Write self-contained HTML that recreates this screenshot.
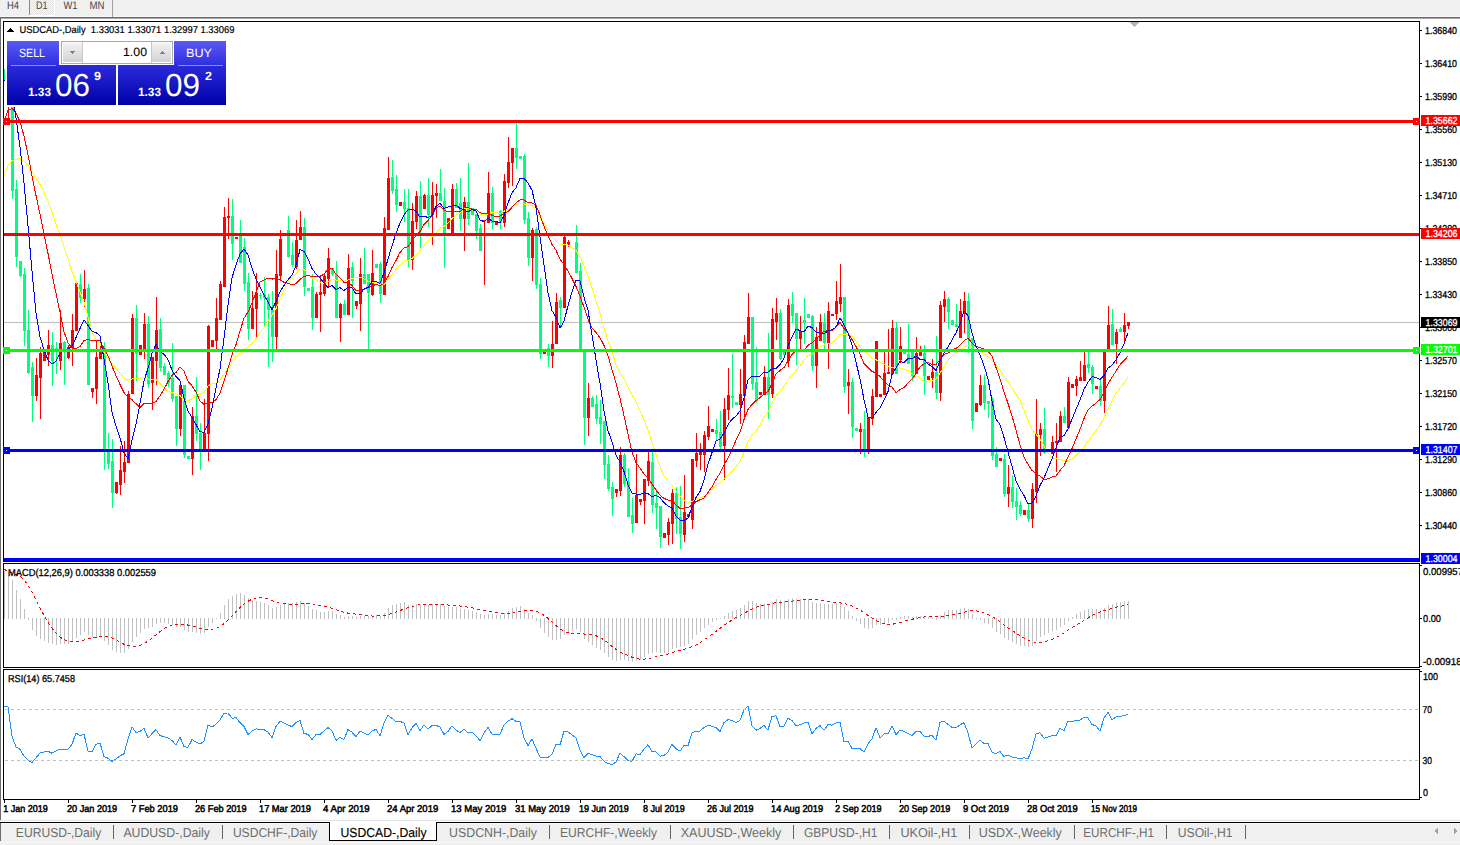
<!DOCTYPE html><html><head><meta charset="utf-8"><title>USDCAD Daily</title><style>html,body{margin:0;padding:0;width:1460px;height:845px;overflow:hidden;background:#fff} text{text-rendering:geometricPrecision}</style></head><body><svg width="1460" height="845" viewBox="0 0 1460 845" shape-rendering="crispEdges" style="display:block"><rect x="0" y="0" width="1460" height="845" fill="#ffffff" />
<rect x="0" y="0" width="1460" height="16" fill="#f0f0f0" />
<rect x="0" y="16" width="1461" height="1" fill="#f8f8f8" />
<rect x="0" y="17" width="1461" height="1" fill="#6b6b6b" />
<rect x="1" y="18" width="1460" height="1" fill="#a8a8a8" />
<rect x="0" y="17" width="1" height="803" fill="#6b6b6b"/>
<defs><pattern id="dith" width="2" height="2" patternUnits="userSpaceOnUse"><rect width="2" height="2" fill="#f7f7f7"/><rect width="1" height="1" fill="#e4e4e4"/><rect x="1" y="1" width="1" height="1" fill="#e4e4e4"/></pattern></defs>
<rect x="30" y="0" width="24" height="15" fill="url(#dith)" />
<rect x="29" y="15" width="26" height="1" fill="#ffffff" />
<rect x="54" y="0" width="1" height="16" fill="#ffffff"/>
<rect x="29" y="0" width="1" height="15" fill="#8a8a8a"/>
<rect x="112" y="0" width="1" height="17" fill="#a0a0a0"/>
<text x="7" y="9" font-family="Liberation Sans" font-size="11" font-weight="400" fill="#444" text-anchor="start" textLength="12" lengthAdjust="spacingAndGlyphs" >H4</text>
<text x="36" y="9" font-family="Liberation Sans" font-size="11" font-weight="400" fill="#444" text-anchor="start" textLength="11.5" lengthAdjust="spacingAndGlyphs" >D1</text>
<text x="63.5" y="9" font-family="Liberation Sans" font-size="11" font-weight="400" fill="#444" text-anchor="start" textLength="14" lengthAdjust="spacingAndGlyphs" >W1</text>
<text x="89.5" y="9" font-family="Liberation Sans" font-size="11" font-weight="400" fill="#444" text-anchor="start" textLength="15" lengthAdjust="spacingAndGlyphs" >MN</text>
<rect x="4" y="322" width="1415" height="1" fill="#c0c0c0" />
<g><rect x="4" y="69" width="1" height="12" fill="#00ff7f"/><rect x="3" y="70" width="3" height="9" fill="#00ff7f"/><rect x="8" y="107" width="1" height="12" fill="#ff0000"/><rect x="7" y="78" width="3" height="1" fill="#ff0000"/><rect x="12" y="78" width="1" height="121" fill="#00ff7f"/><rect x="11" y="78" width="3" height="113" fill="#00ff7f"/><rect x="16" y="180" width="1" height="87" fill="#00ff7f"/><rect x="15" y="189" width="3" height="68" fill="#00ff7f"/><rect x="20" y="261" width="1" height="16" fill="#00ff7f"/><rect x="19" y="261" width="3" height="15" fill="#00ff7f"/><rect x="24" y="268" width="1" height="78" fill="#00ff7f"/><rect x="23" y="274" width="3" height="57" fill="#00ff7f"/><rect x="28" y="310" width="1" height="64" fill="#00ff7f"/><rect x="27" y="330" width="3" height="43" fill="#00ff7f"/><rect x="32" y="362" width="1" height="60" fill="#00ff7f"/><rect x="31" y="367" width="3" height="29" fill="#00ff7f"/><rect x="36" y="358" width="1" height="43" fill="#ff0000"/><rect x="35" y="375" width="3" height="21" fill="#ff0000"/><rect x="40" y="347" width="1" height="72" fill="#ff0000"/><rect x="39" y="353" width="3" height="25" fill="#ff0000"/><rect x="44" y="349" width="1" height="12" fill="#ff0000"/><rect x="43" y="349" width="3" height="12" fill="#ff0000"/><rect x="48" y="330" width="1" height="36" fill="#ff0000"/><rect x="47" y="345" width="3" height="10" fill="#ff0000"/><rect x="52" y="332" width="1" height="54" fill="#00ff7f"/><rect x="51" y="345" width="3" height="16" fill="#00ff7f"/><rect x="56" y="342" width="1" height="32" fill="#00ff7f"/><rect x="55" y="348" width="3" height="4" fill="#00ff7f"/><rect x="60" y="310" width="1" height="60" fill="#ff0000"/><rect x="59" y="343" width="3" height="18" fill="#ff0000"/><rect x="64" y="341" width="1" height="44" fill="#00ff7f"/><rect x="63" y="342" width="3" height="8" fill="#00ff7f"/><rect x="68" y="345" width="1" height="14" fill="#ff0000"/><rect x="67" y="347" width="3" height="11" fill="#ff0000"/><rect x="72" y="314" width="1" height="52" fill="#ff0000"/><rect x="71" y="330" width="3" height="18" fill="#ff0000"/><rect x="76" y="283" width="1" height="48" fill="#ff0000"/><rect x="75" y="283" width="3" height="48" fill="#ff0000"/><rect x="80" y="274" width="1" height="29" fill="#00ff7f"/><rect x="79" y="284" width="3" height="14" fill="#00ff7f"/><rect x="84" y="270" width="1" height="37" fill="#ff0000"/><rect x="83" y="289" width="3" height="10" fill="#ff0000"/><rect x="88" y="284" width="1" height="101" fill="#00ff7f"/><rect x="87" y="288" width="3" height="97" fill="#00ff7f"/><rect x="92" y="388" width="1" height="10" fill="#ff0000"/><rect x="91" y="388" width="3" height="4" fill="#ff0000"/><rect x="96" y="341" width="1" height="63" fill="#ff0000"/><rect x="95" y="357" width="3" height="32" fill="#ff0000"/><rect x="100" y="345" width="1" height="14" fill="#ff0000"/><rect x="99" y="351" width="3" height="8" fill="#ff0000"/><rect x="104" y="342" width="1" height="128" fill="#00ff7f"/><rect x="103" y="348" width="3" height="102" fill="#00ff7f"/><rect x="108" y="433" width="1" height="36" fill="#00ff7f"/><rect x="107" y="451" width="3" height="13" fill="#00ff7f"/><rect x="112" y="439" width="1" height="69" fill="#00ff7f"/><rect x="111" y="461" width="3" height="32" fill="#00ff7f"/><rect x="116" y="482" width="1" height="12" fill="#ff0000"/><rect x="115" y="482" width="3" height="11" fill="#ff0000"/><rect x="120" y="446" width="1" height="49" fill="#ff0000"/><rect x="119" y="470" width="3" height="15" fill="#ff0000"/><rect x="124" y="441" width="1" height="42" fill="#ff0000"/><rect x="123" y="462" width="3" height="10" fill="#ff0000"/><rect x="128" y="391" width="1" height="72" fill="#ff0000"/><rect x="127" y="394" width="3" height="69" fill="#ff0000"/><rect x="132" y="314" width="1" height="80" fill="#ff0000"/><rect x="131" y="318" width="3" height="76" fill="#ff0000"/><rect x="136" y="305" width="1" height="76" fill="#00ff7f"/><rect x="135" y="318" width="3" height="36" fill="#00ff7f"/><rect x="140" y="345" width="1" height="10" fill="#ff0000"/><rect x="139" y="345" width="3" height="10" fill="#ff0000"/><rect x="144" y="313" width="1" height="46" fill="#ff0000"/><rect x="143" y="324" width="3" height="25" fill="#ff0000"/><rect x="148" y="316" width="1" height="72" fill="#00ff7f"/><rect x="147" y="324" width="3" height="60" fill="#00ff7f"/><rect x="152" y="357" width="1" height="53" fill="#ff0000"/><rect x="151" y="357" width="3" height="26" fill="#ff0000"/><rect x="156" y="297" width="1" height="88" fill="#ff0000"/><rect x="155" y="330" width="3" height="31" fill="#ff0000"/><rect x="160" y="318" width="1" height="53" fill="#00ff7f"/><rect x="159" y="329" width="3" height="39" fill="#00ff7f"/><rect x="164" y="363" width="1" height="12" fill="#00ff7f"/><rect x="163" y="366" width="3" height="9" fill="#00ff7f"/><rect x="168" y="371" width="1" height="16" fill="#00ff7f"/><rect x="167" y="373" width="3" height="10" fill="#00ff7f"/><rect x="172" y="343" width="1" height="59" fill="#00ff7f"/><rect x="171" y="378" width="3" height="21" fill="#00ff7f"/><rect x="176" y="396" width="1" height="50" fill="#00ff7f"/><rect x="175" y="396" width="3" height="33" fill="#00ff7f"/><rect x="180" y="383" width="1" height="53" fill="#ff0000"/><rect x="179" y="385" width="3" height="44" fill="#ff0000"/><rect x="184" y="385" width="1" height="73" fill="#00ff7f"/><rect x="183" y="385" width="3" height="70" fill="#00ff7f"/><rect x="188" y="456" width="1" height="3" fill="#00ff7f"/><rect x="187" y="456" width="3" height="3" fill="#00ff7f"/><rect x="192" y="407" width="1" height="68" fill="#ff0000"/><rect x="191" y="416" width="3" height="43" fill="#ff0000"/><rect x="196" y="377" width="1" height="64" fill="#00ff7f"/><rect x="195" y="416" width="3" height="18" fill="#00ff7f"/><rect x="200" y="423" width="1" height="47" fill="#00ff7f"/><rect x="199" y="433" width="3" height="16" fill="#00ff7f"/><rect x="204" y="399" width="1" height="51" fill="#ff0000"/><rect x="203" y="433" width="3" height="16" fill="#ff0000"/><rect x="208" y="325" width="1" height="136" fill="#ff0000"/><rect x="207" y="326" width="3" height="108" fill="#ff0000"/><rect x="212" y="340" width="1" height="7" fill="#ff0000"/><rect x="211" y="340" width="3" height="7" fill="#ff0000"/><rect x="216" y="298" width="1" height="51" fill="#ff0000"/><rect x="215" y="318" width="3" height="23" fill="#ff0000"/><rect x="220" y="281" width="1" height="39" fill="#ff0000"/><rect x="219" y="284" width="3" height="36" fill="#ff0000"/><rect x="224" y="207" width="1" height="80" fill="#ff0000"/><rect x="223" y="217" width="3" height="70" fill="#ff0000"/><rect x="228" y="198" width="1" height="41" fill="#ff0000"/><rect x="227" y="216" width="3" height="2" fill="#ff0000"/><rect x="232" y="199" width="1" height="61" fill="#00ff7f"/><rect x="231" y="216" width="3" height="28" fill="#00ff7f"/><rect x="236" y="237" width="1" height="2" fill="#ff0000"/><rect x="235" y="237" width="3" height="2" fill="#ff0000"/><rect x="240" y="220" width="1" height="43" fill="#00ff7f"/><rect x="239" y="234" width="3" height="29" fill="#00ff7f"/><rect x="244" y="238" width="1" height="53" fill="#00ff7f"/><rect x="243" y="247" width="3" height="37" fill="#00ff7f"/><rect x="248" y="273" width="1" height="67" fill="#00ff7f"/><rect x="247" y="282" width="3" height="47" fill="#00ff7f"/><rect x="252" y="291" width="1" height="38" fill="#ff0000"/><rect x="251" y="308" width="3" height="21" fill="#ff0000"/><rect x="256" y="273" width="1" height="65" fill="#ff0000"/><rect x="255" y="293" width="3" height="16" fill="#ff0000"/><rect x="260" y="293" width="1" height="6" fill="#00ff7f"/><rect x="259" y="295" width="3" height="1" fill="#00ff7f"/><rect x="264" y="277" width="1" height="51" fill="#00ff7f"/><rect x="263" y="294" width="3" height="4" fill="#00ff7f"/><rect x="268" y="294" width="1" height="73" fill="#00ff7f"/><rect x="267" y="297" width="3" height="13" fill="#00ff7f"/><rect x="272" y="291" width="1" height="71" fill="#00ff7f"/><rect x="271" y="310" width="3" height="27" fill="#00ff7f"/><rect x="276" y="250" width="1" height="99" fill="#ff0000"/><rect x="275" y="274" width="3" height="63" fill="#ff0000"/><rect x="280" y="230" width="1" height="50" fill="#ff0000"/><rect x="279" y="239" width="3" height="37" fill="#ff0000"/><rect x="288" y="216" width="1" height="41" fill="#00ff7f"/><rect x="287" y="230" width="3" height="27" fill="#00ff7f"/><rect x="292" y="242" width="1" height="25" fill="#00ff7f"/><rect x="291" y="255" width="3" height="10" fill="#00ff7f"/><rect x="296" y="220" width="1" height="49" fill="#ff0000"/><rect x="295" y="240" width="3" height="27" fill="#ff0000"/><rect x="300" y="211" width="1" height="29" fill="#ff0000"/><rect x="299" y="227" width="3" height="13" fill="#ff0000"/><rect x="304" y="218" width="1" height="78" fill="#00ff7f"/><rect x="303" y="227" width="3" height="60" fill="#00ff7f"/><rect x="308" y="288" width="1" height="3" fill="#00ff7f"/><rect x="307" y="288" width="3" height="3" fill="#00ff7f"/><rect x="312" y="274" width="1" height="56" fill="#00ff7f"/><rect x="311" y="287" width="3" height="31" fill="#00ff7f"/><rect x="316" y="292" width="1" height="26" fill="#ff0000"/><rect x="315" y="294" width="3" height="24" fill="#ff0000"/><rect x="320" y="275" width="1" height="57" fill="#ff0000"/><rect x="319" y="292" width="3" height="3" fill="#ff0000"/><rect x="324" y="273" width="1" height="23" fill="#ff0000"/><rect x="323" y="276" width="3" height="18" fill="#ff0000"/><rect x="328" y="248" width="1" height="39" fill="#ff0000"/><rect x="327" y="258" width="3" height="21" fill="#ff0000"/><rect x="332" y="268" width="1" height="8" fill="#00ff7f"/><rect x="331" y="268" width="3" height="6" fill="#00ff7f"/><rect x="336" y="261" width="1" height="57" fill="#00ff7f"/><rect x="335" y="274" width="3" height="44" fill="#00ff7f"/><rect x="340" y="303" width="1" height="39" fill="#ff0000"/><rect x="339" y="304" width="3" height="14" fill="#ff0000"/><rect x="344" y="300" width="1" height="15" fill="#00ff7f"/><rect x="343" y="304" width="3" height="11" fill="#00ff7f"/><rect x="348" y="254" width="1" height="61" fill="#ff0000"/><rect x="347" y="268" width="3" height="47" fill="#ff0000"/><rect x="352" y="262" width="1" height="56" fill="#00ff7f"/><rect x="351" y="267" width="3" height="14" fill="#00ff7f"/><rect x="356" y="301" width="1" height="8" fill="#ff0000"/><rect x="355" y="301" width="3" height="5" fill="#ff0000"/><rect x="360" y="258" width="1" height="73" fill="#ff0000"/><rect x="359" y="274" width="3" height="30" fill="#ff0000"/><rect x="364" y="248" width="1" height="36" fill="#00ff7f"/><rect x="363" y="274" width="3" height="10" fill="#00ff7f"/><rect x="368" y="274" width="1" height="75" fill="#00ff7f"/><rect x="367" y="274" width="3" height="19" fill="#00ff7f"/><rect x="372" y="250" width="1" height="46" fill="#ff0000"/><rect x="371" y="273" width="3" height="22" fill="#ff0000"/><rect x="376" y="264" width="1" height="4" fill="#00ff7f"/><rect x="375" y="264" width="3" height="4" fill="#00ff7f"/><rect x="380" y="262" width="1" height="41" fill="#00ff7f"/><rect x="379" y="264" width="3" height="30" fill="#00ff7f"/><rect x="384" y="217" width="1" height="78" fill="#ff0000"/><rect x="383" y="228" width="3" height="67" fill="#ff0000"/><rect x="388" y="157" width="1" height="73" fill="#ff0000"/><rect x="387" y="178" width="3" height="52" fill="#ff0000"/><rect x="392" y="160" width="1" height="34" fill="#00ff7f"/><rect x="391" y="177" width="3" height="14" fill="#00ff7f"/><rect x="396" y="175" width="1" height="37" fill="#00ff7f"/><rect x="395" y="189" width="3" height="16" fill="#00ff7f"/><rect x="400" y="202" width="1" height="4" fill="#ff0000"/><rect x="399" y="202" width="3" height="4" fill="#ff0000"/><rect x="404" y="189" width="1" height="33" fill="#00ff7f"/><rect x="403" y="202" width="3" height="7" fill="#00ff7f"/><rect x="408" y="189" width="1" height="78" fill="#00ff7f"/><rect x="407" y="208" width="3" height="52" fill="#00ff7f"/><rect x="412" y="203" width="1" height="67" fill="#ff0000"/><rect x="411" y="221" width="3" height="39" fill="#ff0000"/><rect x="416" y="191" width="1" height="38" fill="#ff0000"/><rect x="415" y="196" width="3" height="26" fill="#ff0000"/><rect x="420" y="181" width="1" height="67" fill="#00ff7f"/><rect x="419" y="196" width="3" height="35" fill="#00ff7f"/><rect x="424" y="194" width="1" height="15" fill="#ff0000"/><rect x="423" y="195" width="3" height="14" fill="#ff0000"/><rect x="428" y="178" width="1" height="49" fill="#00ff7f"/><rect x="427" y="195" width="3" height="20" fill="#00ff7f"/><rect x="432" y="182" width="1" height="63" fill="#ff0000"/><rect x="431" y="195" width="3" height="20" fill="#ff0000"/><rect x="436" y="184" width="1" height="34" fill="#ff0000"/><rect x="435" y="193" width="3" height="3" fill="#ff0000"/><rect x="440" y="169" width="1" height="32" fill="#00ff7f"/><rect x="439" y="193" width="3" height="8" fill="#00ff7f"/><rect x="444" y="188" width="1" height="80" fill="#00ff7f"/><rect x="443" y="201" width="3" height="33" fill="#00ff7f"/><rect x="448" y="218" width="1" height="11" fill="#ff0000"/><rect x="447" y="218" width="3" height="11" fill="#ff0000"/><rect x="452" y="184" width="1" height="50" fill="#ff0000"/><rect x="451" y="189" width="3" height="45" fill="#ff0000"/><rect x="456" y="183" width="1" height="25" fill="#00ff7f"/><rect x="455" y="189" width="3" height="19" fill="#00ff7f"/><rect x="460" y="178" width="1" height="53" fill="#00ff7f"/><rect x="459" y="203" width="3" height="16" fill="#00ff7f"/><rect x="464" y="197" width="1" height="54" fill="#ff0000"/><rect x="463" y="202" width="3" height="17" fill="#ff0000"/><rect x="468" y="163" width="1" height="62" fill="#00ff7f"/><rect x="467" y="202" width="3" height="17" fill="#00ff7f"/><rect x="472" y="208" width="1" height="7" fill="#00ff7f"/><rect x="471" y="208" width="3" height="7" fill="#00ff7f"/><rect x="476" y="214" width="1" height="25" fill="#00ff7f"/><rect x="475" y="214" width="3" height="17" fill="#00ff7f"/><rect x="480" y="224" width="1" height="27" fill="#00ff7f"/><rect x="479" y="228" width="3" height="23" fill="#00ff7f"/><rect x="484" y="220" width="1" height="65" fill="#ff0000"/><rect x="483" y="220" width="3" height="1" fill="#ff0000"/><rect x="488" y="172" width="1" height="51" fill="#ff0000"/><rect x="487" y="193" width="3" height="30" fill="#ff0000"/><rect x="492" y="187" width="1" height="42" fill="#00ff7f"/><rect x="491" y="193" width="3" height="30" fill="#00ff7f"/><rect x="496" y="222" width="1" height="3" fill="#ff0000"/><rect x="495" y="222" width="3" height="3" fill="#ff0000"/><rect x="500" y="210" width="1" height="19" fill="#00ff7f"/><rect x="499" y="211" width="3" height="12" fill="#00ff7f"/><rect x="504" y="174" width="1" height="53" fill="#ff0000"/><rect x="503" y="181" width="3" height="42" fill="#ff0000"/><rect x="508" y="137" width="1" height="51" fill="#ff0000"/><rect x="507" y="162" width="3" height="21" fill="#ff0000"/><rect x="512" y="148" width="1" height="38" fill="#ff0000"/><rect x="511" y="148" width="3" height="15" fill="#ff0000"/><rect x="516" y="123" width="1" height="46" fill="#00ff7f"/><rect x="515" y="148" width="3" height="10" fill="#00ff7f"/><rect x="520" y="156" width="1" height="3" fill="#00ff7f"/><rect x="519" y="156" width="3" height="3" fill="#00ff7f"/><rect x="524" y="154" width="1" height="70" fill="#00ff7f"/><rect x="523" y="156" width="3" height="64" fill="#00ff7f"/><rect x="528" y="212" width="1" height="54" fill="#00ff7f"/><rect x="527" y="218" width="3" height="40" fill="#00ff7f"/><rect x="532" y="228" width="1" height="53" fill="#ff0000"/><rect x="531" y="230" width="3" height="28" fill="#ff0000"/><rect x="536" y="227" width="1" height="62" fill="#00ff7f"/><rect x="535" y="229" width="3" height="56" fill="#00ff7f"/><rect x="540" y="278" width="1" height="81" fill="#00ff7f"/><rect x="539" y="284" width="3" height="70" fill="#00ff7f"/><rect x="544" y="352" width="1" height="2" fill="#ff0000"/><rect x="543" y="352" width="3" height="2" fill="#ff0000"/><rect x="548" y="344" width="1" height="23" fill="#00ff7f"/><rect x="547" y="348" width="3" height="8" fill="#00ff7f"/><rect x="552" y="321" width="1" height="47" fill="#ff0000"/><rect x="551" y="344" width="3" height="12" fill="#ff0000"/><rect x="556" y="293" width="1" height="51" fill="#ff0000"/><rect x="555" y="302" width="3" height="42" fill="#ff0000"/><rect x="560" y="297" width="1" height="31" fill="#00ff7f"/><rect x="559" y="300" width="3" height="8" fill="#00ff7f"/><rect x="564" y="235" width="1" height="73" fill="#ff0000"/><rect x="563" y="237" width="3" height="71" fill="#ff0000"/><rect x="568" y="240" width="1" height="7" fill="#ff0000"/><rect x="567" y="242" width="3" height="3" fill="#ff0000"/><rect x="576" y="225" width="1" height="48" fill="#00ff7f"/><rect x="575" y="242" width="3" height="31" fill="#00ff7f"/><rect x="580" y="263" width="1" height="88" fill="#00ff7f"/><rect x="579" y="271" width="3" height="80" fill="#00ff7f"/><rect x="584" y="351" width="1" height="94" fill="#00ff7f"/><rect x="583" y="351" width="3" height="67" fill="#00ff7f"/><rect x="588" y="383" width="1" height="53" fill="#ff0000"/><rect x="587" y="398" width="3" height="20" fill="#ff0000"/><rect x="592" y="396" width="1" height="11" fill="#00ff7f"/><rect x="591" y="398" width="3" height="9" fill="#00ff7f"/><rect x="596" y="395" width="1" height="29" fill="#00ff7f"/><rect x="595" y="404" width="3" height="15" fill="#00ff7f"/><rect x="600" y="400" width="1" height="44" fill="#00ff7f"/><rect x="599" y="417" width="3" height="7" fill="#00ff7f"/><rect x="604" y="421" width="1" height="58" fill="#00ff7f"/><rect x="603" y="421" width="3" height="44" fill="#00ff7f"/><rect x="608" y="455" width="1" height="36" fill="#00ff7f"/><rect x="607" y="464" width="3" height="25" fill="#00ff7f"/><rect x="612" y="482" width="1" height="34" fill="#00ff7f"/><rect x="611" y="487" width="3" height="12" fill="#00ff7f"/><rect x="616" y="489" width="1" height="8" fill="#ff0000"/><rect x="615" y="489" width="3" height="4" fill="#ff0000"/><rect x="620" y="447" width="1" height="49" fill="#ff0000"/><rect x="619" y="455" width="3" height="36" fill="#ff0000"/><rect x="624" y="453" width="1" height="34" fill="#00ff7f"/><rect x="623" y="455" width="3" height="29" fill="#00ff7f"/><rect x="628" y="468" width="1" height="49" fill="#00ff7f"/><rect x="627" y="482" width="3" height="35" fill="#00ff7f"/><rect x="632" y="498" width="1" height="35" fill="#00ff7f"/><rect x="631" y="515" width="3" height="9" fill="#00ff7f"/><rect x="636" y="454" width="1" height="69" fill="#ff0000"/><rect x="635" y="495" width="3" height="28" fill="#ff0000"/><rect x="640" y="499" width="1" height="6" fill="#ff0000"/><rect x="639" y="499" width="3" height="3" fill="#ff0000"/><rect x="644" y="479" width="1" height="45" fill="#ff0000"/><rect x="643" y="479" width="3" height="22" fill="#ff0000"/><rect x="648" y="451" width="1" height="35" fill="#ff0000"/><rect x="647" y="461" width="3" height="20" fill="#ff0000"/><rect x="652" y="452" width="1" height="61" fill="#00ff7f"/><rect x="651" y="462" width="3" height="43" fill="#00ff7f"/><rect x="656" y="489" width="1" height="40" fill="#00ff7f"/><rect x="655" y="503" width="3" height="5" fill="#00ff7f"/><rect x="660" y="506" width="1" height="42" fill="#00ff7f"/><rect x="659" y="506" width="3" height="31" fill="#00ff7f"/><rect x="664" y="533" width="1" height="5" fill="#ff0000"/><rect x="663" y="533" width="3" height="5" fill="#ff0000"/><rect x="668" y="518" width="1" height="27" fill="#ff0000"/><rect x="667" y="522" width="3" height="13" fill="#ff0000"/><rect x="672" y="489" width="1" height="55" fill="#ff0000"/><rect x="671" y="493" width="3" height="31" fill="#ff0000"/><rect x="676" y="487" width="1" height="47" fill="#00ff7f"/><rect x="675" y="493" width="3" height="26" fill="#00ff7f"/><rect x="680" y="486" width="1" height="63" fill="#00ff7f"/><rect x="679" y="517" width="3" height="17" fill="#00ff7f"/><rect x="684" y="475" width="1" height="67" fill="#ff0000"/><rect x="683" y="512" width="3" height="23" fill="#ff0000"/><rect x="688" y="514" width="1" height="3" fill="#ff0000"/><rect x="687" y="514" width="3" height="3" fill="#ff0000"/><rect x="692" y="459" width="1" height="70" fill="#ff0000"/><rect x="691" y="459" width="3" height="61" fill="#ff0000"/><rect x="696" y="433" width="1" height="34" fill="#ff0000"/><rect x="695" y="453" width="3" height="8" fill="#ff0000"/><rect x="700" y="443" width="1" height="27" fill="#ff0000"/><rect x="699" y="452" width="3" height="3" fill="#ff0000"/><rect x="704" y="431" width="1" height="41" fill="#ff0000"/><rect x="703" y="435" width="3" height="20" fill="#ff0000"/><rect x="708" y="406" width="1" height="34" fill="#ff0000"/><rect x="707" y="426" width="3" height="11" fill="#ff0000"/><rect x="712" y="429" width="1" height="3" fill="#ff0000"/><rect x="711" y="429" width="3" height="3" fill="#ff0000"/><rect x="716" y="419" width="1" height="22" fill="#00ff7f"/><rect x="715" y="430" width="3" height="4" fill="#00ff7f"/><rect x="720" y="411" width="1" height="39" fill="#00ff7f"/><rect x="719" y="432" width="3" height="15" fill="#00ff7f"/><rect x="724" y="398" width="1" height="82" fill="#ff0000"/><rect x="723" y="409" width="3" height="37" fill="#ff0000"/><rect x="728" y="368" width="1" height="52" fill="#ff0000"/><rect x="727" y="395" width="3" height="15" fill="#ff0000"/><rect x="732" y="354" width="1" height="54" fill="#00ff7f"/><rect x="731" y="396" width="3" height="2" fill="#00ff7f"/><rect x="736" y="402" width="1" height="3" fill="#00ff7f"/><rect x="735" y="402" width="3" height="3" fill="#00ff7f"/><rect x="740" y="369" width="1" height="55" fill="#ff0000"/><rect x="739" y="394" width="3" height="11" fill="#ff0000"/><rect x="744" y="335" width="1" height="82" fill="#ff0000"/><rect x="743" y="342" width="3" height="54" fill="#ff0000"/><rect x="748" y="293" width="1" height="51" fill="#ff0000"/><rect x="747" y="317" width="3" height="27" fill="#ff0000"/><rect x="752" y="317" width="1" height="73" fill="#00ff7f"/><rect x="751" y="317" width="3" height="67" fill="#00ff7f"/><rect x="756" y="347" width="1" height="56" fill="#00ff7f"/><rect x="755" y="382" width="3" height="19" fill="#00ff7f"/><rect x="760" y="392" width="1" height="3" fill="#ff0000"/><rect x="759" y="392" width="3" height="3" fill="#ff0000"/><rect x="764" y="366" width="1" height="29" fill="#ff0000"/><rect x="763" y="377" width="3" height="18" fill="#ff0000"/><rect x="768" y="333" width="1" height="86" fill="#00ff7f"/><rect x="767" y="377" width="3" height="18" fill="#00ff7f"/><rect x="772" y="308" width="1" height="90" fill="#ff0000"/><rect x="771" y="319" width="3" height="75" fill="#ff0000"/><rect x="776" y="298" width="1" height="42" fill="#ff0000"/><rect x="775" y="313" width="3" height="9" fill="#ff0000"/><rect x="780" y="309" width="1" height="51" fill="#00ff7f"/><rect x="779" y="313" width="3" height="46" fill="#00ff7f"/><rect x="784" y="352" width="1" height="3" fill="#00ff7f"/><rect x="783" y="352" width="3" height="3" fill="#00ff7f"/><rect x="788" y="299" width="1" height="68" fill="#ff0000"/><rect x="787" y="305" width="3" height="56" fill="#ff0000"/><rect x="792" y="292" width="1" height="31" fill="#00ff7f"/><rect x="791" y="304" width="3" height="12" fill="#00ff7f"/><rect x="796" y="313" width="1" height="52" fill="#00ff7f"/><rect x="795" y="313" width="3" height="26" fill="#00ff7f"/><rect x="800" y="316" width="1" height="33" fill="#ff0000"/><rect x="799" y="331" width="3" height="8" fill="#ff0000"/><rect x="804" y="298" width="1" height="46" fill="#00ff7f"/><rect x="803" y="320" width="3" height="3" fill="#00ff7f"/><rect x="808" y="314" width="1" height="4" fill="#00ff7f"/><rect x="807" y="314" width="3" height="4" fill="#00ff7f"/><rect x="812" y="315" width="1" height="56" fill="#00ff7f"/><rect x="811" y="316" width="3" height="50" fill="#00ff7f"/><rect x="816" y="327" width="1" height="61" fill="#ff0000"/><rect x="815" y="337" width="3" height="29" fill="#ff0000"/><rect x="820" y="314" width="1" height="27" fill="#ff0000"/><rect x="819" y="322" width="3" height="19" fill="#ff0000"/><rect x="824" y="313" width="1" height="37" fill="#00ff7f"/><rect x="823" y="322" width="3" height="21" fill="#00ff7f"/><rect x="828" y="302" width="1" height="67" fill="#ff0000"/><rect x="827" y="311" width="3" height="32" fill="#ff0000"/><rect x="832" y="314" width="1" height="2" fill="#ff0000"/><rect x="831" y="314" width="3" height="2" fill="#ff0000"/><rect x="836" y="281" width="1" height="39" fill="#ff0000"/><rect x="835" y="301" width="3" height="13" fill="#ff0000"/><rect x="840" y="264" width="1" height="48" fill="#ff0000"/><rect x="839" y="297" width="3" height="7" fill="#ff0000"/><rect x="844" y="297" width="1" height="96" fill="#00ff7f"/><rect x="843" y="297" width="3" height="90" fill="#00ff7f"/><rect x="848" y="369" width="1" height="45" fill="#ff0000"/><rect x="847" y="382" width="3" height="4" fill="#ff0000"/><rect x="852" y="378" width="1" height="60" fill="#00ff7f"/><rect x="851" y="382" width="3" height="45" fill="#00ff7f"/><rect x="856" y="428" width="1" height="3" fill="#00ff7f"/><rect x="855" y="428" width="3" height="3" fill="#00ff7f"/><rect x="860" y="423" width="1" height="31" fill="#ff0000"/><rect x="859" y="429" width="3" height="3" fill="#ff0000"/><rect x="864" y="411" width="1" height="46" fill="#00ff7f"/><rect x="863" y="429" width="3" height="20" fill="#00ff7f"/><rect x="868" y="417" width="1" height="37" fill="#ff0000"/><rect x="867" y="417" width="3" height="32" fill="#ff0000"/><rect x="872" y="389" width="1" height="36" fill="#ff0000"/><rect x="871" y="396" width="3" height="23" fill="#ff0000"/><rect x="876" y="341" width="1" height="56" fill="#ff0000"/><rect x="875" y="341" width="3" height="56" fill="#ff0000"/><rect x="880" y="394" width="1" height="3" fill="#ff0000"/><rect x="879" y="394" width="3" height="3" fill="#ff0000"/><rect x="884" y="352" width="1" height="43" fill="#ff0000"/><rect x="883" y="373" width="3" height="22" fill="#ff0000"/><rect x="888" y="329" width="1" height="45" fill="#ff0000"/><rect x="887" y="372" width="3" height="2" fill="#ff0000"/><rect x="892" y="320" width="1" height="54" fill="#ff0000"/><rect x="891" y="328" width="3" height="46" fill="#ff0000"/><rect x="896" y="322" width="1" height="52" fill="#00ff7f"/><rect x="895" y="328" width="3" height="46" fill="#00ff7f"/><rect x="900" y="327" width="1" height="36" fill="#ff0000"/><rect x="899" y="346" width="3" height="14" fill="#ff0000"/><rect x="904" y="351" width="1" height="3" fill="#00ff7f"/><rect x="903" y="351" width="3" height="3" fill="#00ff7f"/><rect x="908" y="324" width="1" height="40" fill="#00ff7f"/><rect x="907" y="354" width="3" height="10" fill="#00ff7f"/><rect x="912" y="349" width="1" height="32" fill="#00ff7f"/><rect x="911" y="349" width="3" height="27" fill="#00ff7f"/><rect x="916" y="337" width="1" height="37" fill="#ff0000"/><rect x="915" y="353" width="3" height="21" fill="#ff0000"/><rect x="920" y="346" width="1" height="10" fill="#ff0000"/><rect x="919" y="352" width="3" height="4" fill="#ff0000"/><rect x="924" y="345" width="1" height="50" fill="#00ff7f"/><rect x="923" y="353" width="3" height="23" fill="#00ff7f"/><rect x="928" y="376" width="1" height="4" fill="#ff0000"/><rect x="927" y="376" width="3" height="4" fill="#ff0000"/><rect x="932" y="359" width="1" height="29" fill="#ff0000"/><rect x="931" y="372" width="3" height="6" fill="#ff0000"/><rect x="936" y="336" width="1" height="63" fill="#00ff7f"/><rect x="935" y="372" width="3" height="21" fill="#00ff7f"/><rect x="940" y="301" width="1" height="100" fill="#ff0000"/><rect x="939" y="305" width="3" height="88" fill="#ff0000"/><rect x="944" y="291" width="1" height="31" fill="#ff0000"/><rect x="943" y="299" width="3" height="8" fill="#ff0000"/><rect x="948" y="297" width="1" height="32" fill="#00ff7f"/><rect x="947" y="299" width="3" height="13" fill="#00ff7f"/><rect x="952" y="320" width="1" height="5" fill="#00ff7f"/><rect x="951" y="320" width="3" height="5" fill="#00ff7f"/><rect x="956" y="304" width="1" height="23" fill="#00ff7f"/><rect x="955" y="324" width="3" height="3" fill="#00ff7f"/><rect x="960" y="299" width="1" height="39" fill="#ff0000"/><rect x="959" y="311" width="3" height="27" fill="#ff0000"/><rect x="964" y="292" width="1" height="41" fill="#ff0000"/><rect x="963" y="301" width="3" height="12" fill="#ff0000"/><rect x="968" y="293" width="1" height="60" fill="#00ff7f"/><rect x="967" y="301" width="3" height="38" fill="#00ff7f"/><rect x="972" y="338" width="1" height="91" fill="#00ff7f"/><rect x="971" y="338" width="3" height="83" fill="#00ff7f"/><rect x="976" y="403" width="1" height="9" fill="#ff0000"/><rect x="975" y="403" width="3" height="9" fill="#ff0000"/><rect x="980" y="375" width="1" height="31" fill="#ff0000"/><rect x="979" y="385" width="3" height="20" fill="#ff0000"/><rect x="984" y="375" width="1" height="35" fill="#00ff7f"/><rect x="983" y="385" width="3" height="18" fill="#00ff7f"/><rect x="988" y="401" width="1" height="17" fill="#00ff7f"/><rect x="987" y="401" width="3" height="3" fill="#00ff7f"/><rect x="992" y="397" width="1" height="63" fill="#00ff7f"/><rect x="991" y="399" width="3" height="57" fill="#00ff7f"/><rect x="996" y="447" width="1" height="20" fill="#00ff7f"/><rect x="995" y="454" width="3" height="13" fill="#00ff7f"/><rect x="1000" y="458" width="1" height="3" fill="#ff0000"/><rect x="999" y="458" width="3" height="3" fill="#ff0000"/><rect x="1004" y="454" width="1" height="43" fill="#00ff7f"/><rect x="1003" y="459" width="3" height="35" fill="#00ff7f"/><rect x="1008" y="465" width="1" height="42" fill="#ff0000"/><rect x="1007" y="487" width="3" height="7" fill="#ff0000"/><rect x="1012" y="475" width="1" height="33" fill="#00ff7f"/><rect x="1011" y="487" width="3" height="15" fill="#00ff7f"/><rect x="1016" y="488" width="1" height="32" fill="#00ff7f"/><rect x="1015" y="501" width="3" height="6" fill="#00ff7f"/><rect x="1020" y="501" width="1" height="15" fill="#00ff7f"/><rect x="1019" y="505" width="3" height="9" fill="#00ff7f"/><rect x="1024" y="510" width="1" height="5" fill="#ff0000"/><rect x="1023" y="510" width="3" height="5" fill="#ff0000"/><rect x="1028" y="504" width="1" height="18" fill="#00ff7f"/><rect x="1027" y="510" width="3" height="9" fill="#00ff7f"/><rect x="1032" y="483" width="1" height="45" fill="#ff0000"/><rect x="1031" y="489" width="3" height="30" fill="#ff0000"/><rect x="1036" y="399" width="1" height="104" fill="#ff0000"/><rect x="1035" y="434" width="3" height="58" fill="#ff0000"/><rect x="1040" y="423" width="1" height="33" fill="#ff0000"/><rect x="1039" y="429" width="3" height="6" fill="#ff0000"/><rect x="1044" y="408" width="1" height="46" fill="#00ff7f"/><rect x="1043" y="429" width="3" height="24" fill="#00ff7f"/><rect x="1052" y="436" width="1" height="18" fill="#ff0000"/><rect x="1051" y="442" width="3" height="12" fill="#ff0000"/><rect x="1056" y="423" width="1" height="49" fill="#ff0000"/><rect x="1055" y="441" width="3" height="2" fill="#ff0000"/><rect x="1060" y="411" width="1" height="31" fill="#ff0000"/><rect x="1059" y="416" width="3" height="26" fill="#ff0000"/><rect x="1064" y="407" width="1" height="16" fill="#00ff7f"/><rect x="1063" y="416" width="3" height="7" fill="#00ff7f"/><rect x="1068" y="377" width="1" height="51" fill="#ff0000"/><rect x="1067" y="382" width="3" height="46" fill="#ff0000"/><rect x="1072" y="384" width="1" height="4" fill="#ff0000"/><rect x="1071" y="384" width="3" height="4" fill="#ff0000"/><rect x="1076" y="376" width="1" height="20" fill="#ff0000"/><rect x="1075" y="379" width="3" height="7" fill="#ff0000"/><rect x="1080" y="361" width="1" height="20" fill="#ff0000"/><rect x="1079" y="377" width="3" height="4" fill="#ff0000"/><rect x="1084" y="351" width="1" height="30" fill="#ff0000"/><rect x="1083" y="365" width="3" height="16" fill="#ff0000"/><rect x="1088" y="352" width="1" height="21" fill="#00ff7f"/><rect x="1087" y="364" width="3" height="4" fill="#00ff7f"/><rect x="1092" y="365" width="1" height="29" fill="#00ff7f"/><rect x="1091" y="367" width="3" height="17" fill="#00ff7f"/><rect x="1096" y="386" width="1" height="3" fill="#ff0000"/><rect x="1095" y="386" width="3" height="3" fill="#ff0000"/><rect x="1100" y="380" width="1" height="26" fill="#00ff7f"/><rect x="1099" y="386" width="3" height="15" fill="#00ff7f"/><rect x="1104" y="351" width="1" height="62" fill="#ff0000"/><rect x="1103" y="351" width="3" height="50" fill="#ff0000"/><rect x="1108" y="306" width="1" height="46" fill="#ff0000"/><rect x="1107" y="325" width="3" height="27" fill="#ff0000"/><rect x="1112" y="309" width="1" height="36" fill="#00ff7f"/><rect x="1111" y="324" width="3" height="21" fill="#00ff7f"/><rect x="1116" y="329" width="1" height="35" fill="#ff0000"/><rect x="1115" y="332" width="3" height="12" fill="#ff0000"/><rect x="1120" y="327" width="1" height="5" fill="#00ff7f"/><rect x="1119" y="329" width="3" height="3" fill="#00ff7f"/><rect x="1124" y="313" width="1" height="28" fill="#ff0000"/><rect x="1123" y="325" width="3" height="7" fill="#ff0000"/><rect x="1128" y="322" width="1" height="7" fill="#ff0000"/><rect x="1127" y="322" width="3" height="4" fill="#ff0000"/></g>
<svg x="4" y="22" width="1415" height="539" viewBox="4 22 1415 539" overflow="hidden"><polyline points="4,175.4 8,165.3 12,160.7 16,159.2 20,158.7 24,160.9 28,165.5 32,171.7 36,178.0 40,184.5 44,192.1 48,201.1 52,212.1 56,223.6 60,235.1 64,247.0 68,259.3 72,271.4 76,281.5 80,292.0 84,302.1 88,316.7 92,331.5 96,339.4 100,344.0 104,352.2 108,358.6 112,364.3 116,368.4 120,373.0 124,378.1 128,380.3 132,379.0 136,378.7 140,378.4 144,377.5 148,379.1 152,379.6 156,379.6 160,383.6 164,387.2 168,391.7 172,392.3 176,394.2 180,395.6 184,400.5 188,400.9 192,398.7 196,395.9 200,394.2 204,392.5 208,386.0 212,383.4 216,383.4 220,380.1 224,374.0 228,368.9 232,362.2 236,356.5 240,353.3 244,349.3 248,347.1 252,343.6 256,338.6 260,332.2 264,328.0 268,321.1 272,315.3 276,308.6 280,299.3 284,289.8 288,281.4 292,278.4 296,273.6 300,269.3 304,269.4 308,272.9 312,277.7 316,280.1 320,282.7 324,283.4 328,282.2 332,279.6 336,280.0 340,280.5 344,281.5 348,280.1 352,278.7 356,277.0 360,277.0 364,279.1 368,281.2 372,282.0 376,282.2 380,284.7 384,284.8 388,279.6 392,274.9 396,269.5 400,265.1 404,261.1 408,260.3 412,258.5 416,254.9 420,250.7 424,245.5 428,240.8 432,237.3 436,233.1 440,228.3 444,226.4 448,223.3 452,218.4 456,215.2 460,212.9 464,208.6 468,208.1 472,209.8 476,211.7 480,213.9 484,214.8 488,214.0 492,212.3 496,212.3 500,213.6 504,211.2 508,209.7 512,206.5 516,204.7 520,203.0 524,204.0 528,205.1 532,205.7 536,210.2 540,217.1 544,223.5 548,230.8 552,236.8 556,241.0 560,244.7 564,244.0 568,245.1 572,248.1 576,250.5 580,256.6 584,265.9 588,276.2 592,287.9 596,300.7 600,313.4 604,328.0 608,340.8 612,352.2 616,364.6 620,372.7 624,378.9 628,386.7 632,394.7 636,401.9 640,411.3 644,419.5 648,430.1 652,442.6 656,454.5 660,467.1 664,475.8 668,480.8 672,485.3 676,490.7 680,496.1 684,500.4 688,502.8 692,501.4 696,499.2 700,497.5 704,496.5 708,493.8 712,489.7 716,485.4 720,483.0 724,478.8 728,474.8 732,471.7 736,467.0 740,461.6 744,452.3 748,442.0 752,435.4 756,431.0 760,425.0 764,417.6 768,412.0 772,402.7 776,395.7 780,391.2 784,386.5 788,380.3 792,375.0 796,370.7 800,365.9 804,360.0 808,355.6 812,354.1 816,351.3 820,347.4 824,344.9 828,343.4 832,343.3 836,339.4 840,334.5 844,334.2 848,334.4 852,336.0 856,341.2 860,346.8 864,351.0 868,354.0 872,358.4 876,359.6 880,362.3 884,364.3 888,366.7 892,367.2 896,367.6 900,368.0 904,369.5 908,370.5 912,373.5 916,375.4 920,377.8 924,381.5 928,381.0 932,380.6 936,379.0 940,373.0 944,366.8 948,360.3 952,355.9 956,352.5 960,351.1 964,346.7 968,345.0 972,347.3 976,350.9 980,351.4 984,354.1 988,356.5 992,360.9 996,365.2 1000,370.2 1004,376.9 1008,382.2 1012,388.2 1016,394.6 1020,400.3 1024,410.1 1028,420.5 1032,429.0 1036,434.2 1040,439.1 1044,445.9 1048,452.8 1052,457.8 1056,458.8 1060,459.4 1064,461.1 1068,460.2 1072,459.3 1076,455.7 1080,451.4 1084,447.0 1088,441.0 1092,436.0 1096,430.6 1100,425.5 1104,417.8 1108,409.0 1112,400.7 1116,393.2 1120,388.3 1124,383.4 1128,377.2" fill="none" stroke="#ffff00" stroke-width="1"/><polyline points="4,122.2 8,110.4 12,108.4 16,113.2 20,121.7 24,136.1 28,154.8 32,175.8 36,195.5 40,214.3 44,233.9 48,253.4 52,273.7 56,293.4 60,312.3 64,331.6 68,342.9 72,348.1 76,348.7 80,346.4 84,340.4 88,339.6 92,340.6 96,340.9 100,341.0 104,348.4 108,355.8 112,365.9 116,375.8 120,384.4 124,392.6 128,397.2 132,399.7 136,403.7 140,407.7 144,403.4 148,403.1 152,403.1 156,401.6 160,395.7 164,389.4 168,381.5 172,375.5 176,372.5 180,367.0 184,371.3 188,381.3 192,385.8 196,392.1 200,400.9 204,404.5 208,402.3 212,403.0 216,399.5 220,393.1 224,381.3 228,368.3 232,355.1 236,344.5 240,330.8 244,318.3 248,312.0 252,303.1 256,292.0 260,282.1 264,280.1 268,277.9 272,279.1 276,278.4 280,280.0 284,282.3 288,283.2 292,285.1 296,283.5 300,279.5 304,276.5 308,275.3 312,277.0 316,276.9 320,276.5 324,274.2 328,268.6 332,268.5 336,274.1 340,278.1 344,282.3 348,282.6 352,285.4 356,290.7 360,289.9 364,289.4 368,287.6 372,286.1 376,284.3 380,285.5 384,283.4 388,276.6 392,267.5 396,260.4 400,252.4 404,248.1 408,246.6 412,240.9 416,235.3 420,231.5 424,224.6 428,220.4 432,215.2 436,208.1 440,206.1 444,210.0 448,212.0 452,210.9 456,211.3 460,212.0 464,207.9 468,207.7 472,209.0 476,209.0 480,212.9 484,213.4 488,213.2 492,215.3 496,216.9 500,216.1 504,213.4 508,211.5 512,207.3 516,202.9 520,199.8 524,199.9 528,202.9 532,202.9 536,205.4 540,214.9 544,226.2 548,235.7 552,244.4 556,250.1 560,259.1 564,264.5 568,271.2 572,278.4 576,286.5 580,295.9 584,307.3 588,319.3 592,328.0 596,332.6 600,337.7 604,345.5 608,355.8 612,369.8 616,382.8 620,398.4 624,415.6 628,434.1 632,452.0 636,462.4 640,468.2 644,474.0 648,477.9 652,484.1 656,490.1 660,495.2 664,498.4 668,500.1 672,500.4 676,504.9 680,508.5 684,508.2 688,507.6 692,505.0 696,501.7 700,499.8 704,497.9 708,492.4 712,486.8 716,479.4 720,473.2 724,465.1 728,458.1 732,449.5 736,440.3 740,431.9 744,419.6 748,409.4 752,404.4 756,400.7 760,397.6 764,394.1 768,391.6 772,383.5 776,374.0 780,370.4 784,367.4 788,360.9 792,354.5 796,350.5 800,349.7 804,350.1 808,345.4 812,342.9 816,338.9 820,335.0 824,331.3 828,330.7 832,330.8 836,326.7 840,322.6 844,328.4 848,333.2 852,339.5 856,346.6 860,354.2 864,363.6 868,367.3 872,371.5 876,372.9 880,376.6 884,381.0 888,385.1 892,387.1 896,392.5 900,389.6 904,387.6 908,383.1 912,379.1 916,373.7 920,366.9 924,363.9 928,362.4 932,364.6 936,364.5 940,359.6 944,354.4 948,353.2 952,349.7 956,348.3 960,345.3 964,340.9 968,338.2 972,343.0 976,346.6 980,347.4 984,349.2 988,351.4 992,355.9 996,367.4 1000,378.8 1004,391.8 1008,403.4 1012,415.9 1016,429.9 1020,445.0 1024,457.3 1028,464.3 1032,470.4 1036,473.9 1040,475.9 1044,479.4 1048,478.8 1052,477.1 1056,475.9 1060,470.4 1064,465.7 1068,457.2 1072,448.5 1076,438.9 1080,429.4 1084,418.5 1088,409.8 1092,406.1 1096,403.1 1100,399.4 1104,392.5 1108,384.1 1112,377.2 1116,371.2 1120,364.7 1124,360.6 1128,356.2" fill="none" stroke="#ff0000" stroke-width="1"/><polyline points="4,80.7 8,77.6 12,92.1 16,117.9 20,147.0 24,183.2 28,225.6 32,270.9 36,313.3 40,336.6 44,349.9 48,359.9 52,364.1 56,361.1 60,353.7 64,350.0 68,349.1 72,346.4 76,337.6 80,328.6 84,319.7 88,325.6 92,331.1 96,332.6 100,335.6 104,359.3 108,383.0 112,412.0 116,426.0 120,437.7 124,452.7 128,458.9 132,440.1 136,424.4 140,403.4 144,380.9 148,368.4 152,353.4 156,344.3 160,351.3 164,354.3 168,359.6 172,370.1 176,376.6 180,380.6 184,398.3 188,411.3 192,417.3 196,424.6 200,431.7 204,432.4 208,424.0 212,407.7 216,387.7 220,368.9 224,338.0 228,304.9 232,277.7 236,265.0 240,253.9 244,248.9 248,255.1 252,268.1 256,279.1 260,286.6 264,295.1 268,301.9 272,309.4 276,301.7 280,291.9 284,285.4 288,279.8 292,275.1 296,265.2 300,249.6 304,251.4 308,258.6 312,268.6 316,274.0 320,278.0 324,283.1 328,287.6 332,285.7 336,289.6 340,287.7 344,290.6 348,287.1 352,287.7 356,293.9 360,294.0 364,289.1 368,287.4 372,281.6 376,281.4 380,283.3 384,272.9 388,259.1 392,245.9 396,233.3 400,223.1 404,214.7 408,209.9 412,208.9 416,211.4 420,217.1 424,215.9 428,217.6 432,215.7 436,206.3 440,203.3 444,208.6 448,206.9 452,206.0 456,205.0 460,208.3 464,209.6 468,212.1 472,209.4 476,211.1 480,219.9 484,221.7 488,218.1 492,221.0 496,221.6 500,222.7 504,215.7 508,203.1 512,192.9 516,187.7 520,178.6 524,178.1 528,183.1 532,190.1 536,207.6 540,236.9 544,264.7 548,292.9 552,310.7 556,317.1 560,328.1 564,321.4 568,305.6 572,292.0 576,280.1 580,281.0 584,297.4 588,310.4 592,334.6 596,359.7 600,383.4 604,410.9 608,430.6 612,442.1 616,455.1 620,462.1 624,471.4 628,484.7 632,493.1 636,494.1 640,494.3 644,492.9 648,493.7 652,496.7 656,495.4 660,497.3 664,502.7 668,506.0 672,508.0 676,516.1 680,520.3 684,521.0 688,517.9 692,507.3 696,497.4 700,491.6 704,479.7 708,464.4 712,452.6 716,441.0 720,439.1 724,432.9 728,424.7 732,419.3 736,416.1 740,411.1 744,398.1 748,379.7 752,376.0 756,376.7 760,376.0 764,372.1 768,372.1 772,368.9 776,368.3 780,364.7 784,358.1 788,345.7 792,336.9 796,328.9 800,330.6 804,331.9 808,326.0 812,327.6 816,332.1 820,333.1 824,333.7 828,330.9 832,329.7 836,327.4 840,317.7 844,324.7 848,333.3 852,345.3 856,362.3 860,378.7 864,399.7 868,416.9 872,418.3 876,412.4 880,407.9 884,399.7 888,391.6 892,374.4 896,368.1 900,361.0 904,362.7 908,358.3 912,358.6 916,355.9 920,359.3 924,359.6 928,363.9 932,366.6 936,370.7 940,360.7 944,353.0 948,347.1 952,339.9 956,332.7 960,324.0 964,311.0 968,315.7 972,333.0 976,346.1 980,354.9 984,365.7 988,378.9 992,400.9 996,419.1 1000,424.6 1004,437.4 1008,452.0 1012,466.1 1016,480.9 1020,489.1 1024,495.4 1028,504.0 1032,503.4 1036,495.9 1040,485.6 1044,477.9 1048,468.4 1052,458.7 1056,447.7 1060,437.3 1064,435.6 1068,428.9 1072,419.1 1076,409.4 1080,400.1 1084,389.3 1088,382.3 1092,376.7 1096,377.3 1100,379.6 1104,375.6 1108,368.1 1112,365.1 1116,360.1 1120,352.7 1124,344.0 1128,332.9" fill="none" stroke="#0000ff" stroke-width="1"/></svg>
<g><rect x="4" y="571" width="1" height="48" fill="#c0c0c0"/><rect x="8" y="572" width="1" height="47" fill="#c0c0c0"/><rect x="12" y="580" width="1" height="39" fill="#c0c0c0"/><rect x="16" y="590" width="1" height="29" fill="#c0c0c0"/><rect x="20" y="599" width="1" height="20" fill="#c0c0c0"/><rect x="24" y="609" width="1" height="10" fill="#c0c0c0"/><rect x="28" y="618" width="1" height="2" fill="#c0c0c0"/><rect x="32" y="618" width="1" height="12" fill="#c0c0c0"/><rect x="36" y="618" width="1" height="18" fill="#c0c0c0"/><rect x="40" y="618" width="1" height="21" fill="#c0c0c0"/><rect x="44" y="618" width="1" height="23" fill="#c0c0c0"/><rect x="48" y="618" width="1" height="25" fill="#c0c0c0"/><rect x="52" y="618" width="1" height="26" fill="#c0c0c0"/><rect x="56" y="618" width="1" height="27" fill="#c0c0c0"/><rect x="60" y="618" width="1" height="26" fill="#c0c0c0"/><rect x="64" y="618" width="1" height="26" fill="#c0c0c0"/><rect x="68" y="618" width="1" height="26" fill="#c0c0c0"/><rect x="72" y="618" width="1" height="24" fill="#c0c0c0"/><rect x="76" y="618" width="1" height="20" fill="#c0c0c0"/><rect x="80" y="618" width="1" height="17" fill="#c0c0c0"/><rect x="84" y="618" width="1" height="14" fill="#c0c0c0"/><rect x="88" y="618" width="1" height="17" fill="#c0c0c0"/><rect x="92" y="618" width="1" height="19" fill="#c0c0c0"/><rect x="96" y="618" width="1" height="19" fill="#c0c0c0"/><rect x="100" y="618" width="1" height="19" fill="#c0c0c0"/><rect x="104" y="618" width="1" height="23" fill="#c0c0c0"/><rect x="108" y="618" width="1" height="27" fill="#c0c0c0"/><rect x="112" y="618" width="1" height="32" fill="#c0c0c0"/><rect x="116" y="618" width="1" height="34" fill="#c0c0c0"/><rect x="120" y="618" width="1" height="35" fill="#c0c0c0"/><rect x="124" y="618" width="1" height="35" fill="#c0c0c0"/><rect x="128" y="618" width="1" height="31" fill="#c0c0c0"/><rect x="132" y="618" width="1" height="24" fill="#c0c0c0"/><rect x="136" y="618" width="1" height="19" fill="#c0c0c0"/><rect x="140" y="618" width="1" height="15" fill="#c0c0c0"/><rect x="144" y="618" width="1" height="11" fill="#c0c0c0"/><rect x="148" y="618" width="1" height="10" fill="#c0c0c0"/><rect x="152" y="618" width="1" height="9" fill="#c0c0c0"/><rect x="156" y="618" width="1" height="6" fill="#c0c0c0"/><rect x="160" y="618" width="1" height="5" fill="#c0c0c0"/><rect x="164" y="618" width="1" height="5" fill="#c0c0c0"/><rect x="168" y="618" width="1" height="6" fill="#c0c0c0"/><rect x="172" y="618" width="1" height="7" fill="#c0c0c0"/><rect x="176" y="618" width="1" height="9" fill="#c0c0c0"/><rect x="180" y="618" width="1" height="9" fill="#c0c0c0"/><rect x="184" y="618" width="1" height="12" fill="#c0c0c0"/><rect x="188" y="618" width="1" height="14" fill="#c0c0c0"/><rect x="192" y="618" width="1" height="14" fill="#c0c0c0"/><rect x="196" y="618" width="1" height="15" fill="#c0c0c0"/><rect x="200" y="618" width="1" height="16" fill="#c0c0c0"/><rect x="204" y="618" width="1" height="15" fill="#c0c0c0"/><rect x="208" y="618" width="1" height="9" fill="#c0c0c0"/><rect x="212" y="618" width="1" height="5" fill="#c0c0c0"/><rect x="216" y="618" width="1" height="1" fill="#c0c0c0"/><rect x="220" y="613" width="1" height="6" fill="#c0c0c0"/><rect x="224" y="605" width="1" height="14" fill="#c0c0c0"/><rect x="228" y="599" width="1" height="20" fill="#c0c0c0"/><rect x="232" y="596" width="1" height="23" fill="#c0c0c0"/><rect x="236" y="594" width="1" height="25" fill="#c0c0c0"/><rect x="240" y="593" width="1" height="26" fill="#c0c0c0"/><rect x="244" y="595" width="1" height="24" fill="#c0c0c0"/><rect x="248" y="598" width="1" height="21" fill="#c0c0c0"/><rect x="252" y="600" width="1" height="19" fill="#c0c0c0"/><rect x="256" y="601" width="1" height="18" fill="#c0c0c0"/><rect x="260" y="602" width="1" height="17" fill="#c0c0c0"/><rect x="264" y="603" width="1" height="16" fill="#c0c0c0"/><rect x="268" y="605" width="1" height="14" fill="#c0c0c0"/><rect x="272" y="608" width="1" height="11" fill="#c0c0c0"/><rect x="276" y="607" width="1" height="12" fill="#c0c0c0"/><rect x="280" y="605" width="1" height="14" fill="#c0c0c0"/><rect x="284" y="603" width="1" height="16" fill="#c0c0c0"/><rect x="288" y="603" width="1" height="16" fill="#c0c0c0"/><rect x="292" y="603" width="1" height="16" fill="#c0c0c0"/><rect x="296" y="602" width="1" height="17" fill="#c0c0c0"/><rect x="300" y="601" width="1" height="18" fill="#c0c0c0"/><rect x="304" y="603" width="1" height="16" fill="#c0c0c0"/><rect x="308" y="606" width="1" height="13" fill="#c0c0c0"/><rect x="312" y="609" width="1" height="10" fill="#c0c0c0"/><rect x="316" y="610" width="1" height="9" fill="#c0c0c0"/><rect x="320" y="612" width="1" height="7" fill="#c0c0c0"/><rect x="324" y="612" width="1" height="7" fill="#c0c0c0"/><rect x="328" y="611" width="1" height="8" fill="#c0c0c0"/><rect x="332" y="611" width="1" height="8" fill="#c0c0c0"/><rect x="336" y="614" width="1" height="5" fill="#c0c0c0"/><rect x="340" y="615" width="1" height="4" fill="#c0c0c0"/><rect x="344" y="617" width="1" height="2" fill="#c0c0c0"/><rect x="348" y="616" width="1" height="3" fill="#c0c0c0"/><rect x="352" y="616" width="1" height="3" fill="#c0c0c0"/><rect x="356" y="617" width="1" height="2" fill="#c0c0c0"/><rect x="360" y="616" width="1" height="3" fill="#c0c0c0"/><rect x="364" y="616" width="1" height="3" fill="#c0c0c0"/><rect x="368" y="616" width="1" height="3" fill="#c0c0c0"/><rect x="372" y="616" width="1" height="3" fill="#c0c0c0"/><rect x="376" y="615" width="1" height="4" fill="#c0c0c0"/><rect x="380" y="616" width="1" height="3" fill="#c0c0c0"/><rect x="384" y="613" width="1" height="6" fill="#c0c0c0"/><rect x="388" y="608" width="1" height="11" fill="#c0c0c0"/><rect x="392" y="605" width="1" height="14" fill="#c0c0c0"/><rect x="396" y="604" width="1" height="15" fill="#c0c0c0"/><rect x="400" y="603" width="1" height="16" fill="#c0c0c0"/><rect x="404" y="602" width="1" height="17" fill="#c0c0c0"/><rect x="408" y="605" width="1" height="14" fill="#c0c0c0"/><rect x="412" y="605" width="1" height="14" fill="#c0c0c0"/><rect x="416" y="604" width="1" height="15" fill="#c0c0c0"/><rect x="420" y="605" width="1" height="14" fill="#c0c0c0"/><rect x="424" y="604" width="1" height="15" fill="#c0c0c0"/><rect x="428" y="605" width="1" height="14" fill="#c0c0c0"/><rect x="432" y="604" width="1" height="15" fill="#c0c0c0"/><rect x="436" y="604" width="1" height="15" fill="#c0c0c0"/><rect x="440" y="604" width="1" height="15" fill="#c0c0c0"/><rect x="444" y="606" width="1" height="13" fill="#c0c0c0"/><rect x="448" y="607" width="1" height="12" fill="#c0c0c0"/><rect x="452" y="607" width="1" height="12" fill="#c0c0c0"/><rect x="456" y="607" width="1" height="12" fill="#c0c0c0"/><rect x="460" y="609" width="1" height="10" fill="#c0c0c0"/><rect x="464" y="609" width="1" height="10" fill="#c0c0c0"/><rect x="468" y="610" width="1" height="9" fill="#c0c0c0"/><rect x="472" y="611" width="1" height="8" fill="#c0c0c0"/><rect x="476" y="612" width="1" height="7" fill="#c0c0c0"/><rect x="480" y="614" width="1" height="5" fill="#c0c0c0"/><rect x="484" y="615" width="1" height="4" fill="#c0c0c0"/><rect x="488" y="614" width="1" height="5" fill="#c0c0c0"/><rect x="492" y="614" width="1" height="5" fill="#c0c0c0"/><rect x="496" y="615" width="1" height="4" fill="#c0c0c0"/><rect x="500" y="615" width="1" height="4" fill="#c0c0c0"/><rect x="504" y="613" width="1" height="6" fill="#c0c0c0"/><rect x="508" y="611" width="1" height="8" fill="#c0c0c0"/><rect x="512" y="608" width="1" height="11" fill="#c0c0c0"/><rect x="516" y="607" width="1" height="12" fill="#c0c0c0"/><rect x="520" y="606" width="1" height="13" fill="#c0c0c0"/><rect x="524" y="609" width="1" height="10" fill="#c0c0c0"/><rect x="528" y="613" width="1" height="6" fill="#c0c0c0"/><rect x="532" y="615" width="1" height="4" fill="#c0c0c0"/><rect x="536" y="618" width="1" height="3" fill="#c0c0c0"/><rect x="540" y="618" width="1" height="10" fill="#c0c0c0"/><rect x="544" y="618" width="1" height="15" fill="#c0c0c0"/><rect x="548" y="618" width="1" height="19" fill="#c0c0c0"/><rect x="552" y="618" width="1" height="22" fill="#c0c0c0"/><rect x="556" y="618" width="1" height="22" fill="#c0c0c0"/><rect x="560" y="618" width="1" height="21" fill="#c0c0c0"/><rect x="564" y="618" width="1" height="17" fill="#c0c0c0"/><rect x="568" y="618" width="1" height="14" fill="#c0c0c0"/><rect x="572" y="618" width="1" height="12" fill="#c0c0c0"/><rect x="576" y="618" width="1" height="11" fill="#c0c0c0"/><rect x="580" y="618" width="1" height="14" fill="#c0c0c0"/><rect x="584" y="618" width="1" height="21" fill="#c0c0c0"/><rect x="588" y="618" width="1" height="24" fill="#c0c0c0"/><rect x="592" y="618" width="1" height="27" fill="#c0c0c0"/><rect x="596" y="618" width="1" height="30" fill="#c0c0c0"/><rect x="600" y="618" width="1" height="32" fill="#c0c0c0"/><rect x="604" y="618" width="1" height="35" fill="#c0c0c0"/><rect x="608" y="618" width="1" height="39" fill="#c0c0c0"/><rect x="612" y="618" width="1" height="42" fill="#c0c0c0"/><rect x="616" y="618" width="1" height="43" fill="#c0c0c0"/><rect x="620" y="618" width="1" height="42" fill="#c0c0c0"/><rect x="624" y="618" width="1" height="42" fill="#c0c0c0"/><rect x="628" y="618" width="1" height="43" fill="#c0c0c0"/><rect x="632" y="618" width="1" height="44" fill="#c0c0c0"/><rect x="636" y="618" width="1" height="43" fill="#c0c0c0"/><rect x="640" y="618" width="1" height="42" fill="#c0c0c0"/><rect x="644" y="618" width="1" height="39" fill="#c0c0c0"/><rect x="648" y="618" width="1" height="36" fill="#c0c0c0"/><rect x="652" y="618" width="1" height="35" fill="#c0c0c0"/><rect x="656" y="618" width="1" height="34" fill="#c0c0c0"/><rect x="660" y="618" width="1" height="35" fill="#c0c0c0"/><rect x="664" y="618" width="1" height="35" fill="#c0c0c0"/><rect x="668" y="618" width="1" height="34" fill="#c0c0c0"/><rect x="672" y="618" width="1" height="31" fill="#c0c0c0"/><rect x="676" y="618" width="1" height="30" fill="#c0c0c0"/><rect x="680" y="618" width="1" height="29" fill="#c0c0c0"/><rect x="684" y="618" width="1" height="28" fill="#c0c0c0"/><rect x="688" y="618" width="1" height="26" fill="#c0c0c0"/><rect x="692" y="618" width="1" height="21" fill="#c0c0c0"/><rect x="696" y="618" width="1" height="17" fill="#c0c0c0"/><rect x="700" y="618" width="1" height="14" fill="#c0c0c0"/><rect x="704" y="618" width="1" height="10" fill="#c0c0c0"/><rect x="708" y="618" width="1" height="7" fill="#c0c0c0"/><rect x="712" y="618" width="1" height="4" fill="#c0c0c0"/><rect x="716" y="618" width="1" height="2" fill="#c0c0c0"/><rect x="720" y="618" width="1" height="1" fill="#c0c0c0"/><rect x="724" y="616" width="1" height="3" fill="#c0c0c0"/><rect x="728" y="613" width="1" height="6" fill="#c0c0c0"/><rect x="732" y="611" width="1" height="8" fill="#c0c0c0"/><rect x="736" y="610" width="1" height="9" fill="#c0c0c0"/><rect x="740" y="608" width="1" height="11" fill="#c0c0c0"/><rect x="744" y="605" width="1" height="14" fill="#c0c0c0"/><rect x="748" y="601" width="1" height="18" fill="#c0c0c0"/><rect x="752" y="601" width="1" height="18" fill="#c0c0c0"/><rect x="756" y="603" width="1" height="16" fill="#c0c0c0"/><rect x="760" y="604" width="1" height="15" fill="#c0c0c0"/><rect x="764" y="604" width="1" height="15" fill="#c0c0c0"/><rect x="768" y="605" width="1" height="14" fill="#c0c0c0"/><rect x="772" y="602" width="1" height="17" fill="#c0c0c0"/><rect x="776" y="599" width="1" height="20" fill="#c0c0c0"/><rect x="780" y="600" width="1" height="19" fill="#c0c0c0"/><rect x="784" y="601" width="1" height="18" fill="#c0c0c0"/><rect x="788" y="599" width="1" height="20" fill="#c0c0c0"/><rect x="792" y="598" width="1" height="21" fill="#c0c0c0"/><rect x="796" y="599" width="1" height="20" fill="#c0c0c0"/><rect x="800" y="599" width="1" height="20" fill="#c0c0c0"/><rect x="804" y="599" width="1" height="20" fill="#c0c0c0"/><rect x="808" y="599" width="1" height="20" fill="#c0c0c0"/><rect x="812" y="602" width="1" height="17" fill="#c0c0c0"/><rect x="816" y="603" width="1" height="16" fill="#c0c0c0"/><rect x="820" y="603" width="1" height="16" fill="#c0c0c0"/><rect x="824" y="604" width="1" height="15" fill="#c0c0c0"/><rect x="828" y="604" width="1" height="15" fill="#c0c0c0"/><rect x="832" y="604" width="1" height="15" fill="#c0c0c0"/><rect x="836" y="603" width="1" height="16" fill="#c0c0c0"/><rect x="840" y="603" width="1" height="16" fill="#c0c0c0"/><rect x="844" y="607" width="1" height="12" fill="#c0c0c0"/><rect x="848" y="611" width="1" height="8" fill="#c0c0c0"/><rect x="852" y="616" width="1" height="3" fill="#c0c0c0"/><rect x="856" y="618" width="1" height="3" fill="#c0c0c0"/><rect x="860" y="618" width="1" height="6" fill="#c0c0c0"/><rect x="864" y="618" width="1" height="10" fill="#c0c0c0"/><rect x="868" y="618" width="1" height="11" fill="#c0c0c0"/><rect x="872" y="618" width="1" height="10" fill="#c0c0c0"/><rect x="876" y="618" width="1" height="7" fill="#c0c0c0"/><rect x="880" y="618" width="1" height="7" fill="#c0c0c0"/><rect x="884" y="618" width="1" height="6" fill="#c0c0c0"/><rect x="888" y="618" width="1" height="5" fill="#c0c0c0"/><rect x="892" y="618" width="1" height="2" fill="#c0c0c0"/><rect x="896" y="618" width="1" height="2" fill="#c0c0c0"/><rect x="900" y="617" width="1" height="2" fill="#c0c0c0"/><rect x="904" y="616" width="1" height="3" fill="#c0c0c0"/><rect x="908" y="616" width="1" height="3" fill="#c0c0c0"/><rect x="912" y="617" width="1" height="2" fill="#c0c0c0"/><rect x="916" y="616" width="1" height="3" fill="#c0c0c0"/><rect x="920" y="616" width="1" height="3" fill="#c0c0c0"/><rect x="924" y="616" width="1" height="3" fill="#c0c0c0"/><rect x="928" y="617" width="1" height="2" fill="#c0c0c0"/><rect x="932" y="618" width="1" height="1" fill="#c0c0c0"/><rect x="936" y="618" width="1" height="2" fill="#c0c0c0"/><rect x="940" y="615" width="1" height="4" fill="#c0c0c0"/><rect x="944" y="612" width="1" height="7" fill="#c0c0c0"/><rect x="948" y="610" width="1" height="9" fill="#c0c0c0"/><rect x="952" y="610" width="1" height="9" fill="#c0c0c0"/><rect x="956" y="610" width="1" height="9" fill="#c0c0c0"/><rect x="960" y="609" width="1" height="10" fill="#c0c0c0"/><rect x="964" y="608" width="1" height="11" fill="#c0c0c0"/><rect x="968" y="609" width="1" height="10" fill="#c0c0c0"/><rect x="972" y="614" width="1" height="5" fill="#c0c0c0"/><rect x="976" y="618" width="1" height="1" fill="#c0c0c0"/><rect x="980" y="618" width="1" height="2" fill="#c0c0c0"/><rect x="984" y="618" width="1" height="5" fill="#c0c0c0"/><rect x="988" y="618" width="1" height="6" fill="#c0c0c0"/><rect x="992" y="618" width="1" height="10" fill="#c0c0c0"/><rect x="996" y="618" width="1" height="14" fill="#c0c0c0"/><rect x="1000" y="618" width="1" height="16" fill="#c0c0c0"/><rect x="1004" y="618" width="1" height="20" fill="#c0c0c0"/><rect x="1008" y="618" width="1" height="22" fill="#c0c0c0"/><rect x="1012" y="618" width="1" height="24" fill="#c0c0c0"/><rect x="1016" y="618" width="1" height="26" fill="#c0c0c0"/><rect x="1020" y="618" width="1" height="28" fill="#c0c0c0"/><rect x="1024" y="618" width="1" height="28" fill="#c0c0c0"/><rect x="1028" y="618" width="1" height="29" fill="#c0c0c0"/><rect x="1032" y="618" width="1" height="28" fill="#c0c0c0"/><rect x="1036" y="618" width="1" height="23" fill="#c0c0c0"/><rect x="1040" y="618" width="1" height="19" fill="#c0c0c0"/><rect x="1044" y="618" width="1" height="17" fill="#c0c0c0"/><rect x="1048" y="618" width="1" height="15" fill="#c0c0c0"/><rect x="1052" y="618" width="1" height="13" fill="#c0c0c0"/><rect x="1056" y="618" width="1" height="12" fill="#c0c0c0"/><rect x="1060" y="618" width="1" height="9" fill="#c0c0c0"/><rect x="1064" y="618" width="1" height="7" fill="#c0c0c0"/><rect x="1068" y="618" width="1" height="3" fill="#c0c0c0"/><rect x="1072" y="617" width="1" height="2" fill="#c0c0c0"/><rect x="1076" y="614" width="1" height="5" fill="#c0c0c0"/><rect x="1080" y="612" width="1" height="7" fill="#c0c0c0"/><rect x="1084" y="610" width="1" height="9" fill="#c0c0c0"/><rect x="1088" y="609" width="1" height="10" fill="#c0c0c0"/><rect x="1092" y="609" width="1" height="10" fill="#c0c0c0"/><rect x="1096" y="609" width="1" height="10" fill="#c0c0c0"/><rect x="1100" y="610" width="1" height="9" fill="#c0c0c0"/><rect x="1104" y="608" width="1" height="11" fill="#c0c0c0"/><rect x="1108" y="605" width="1" height="14" fill="#c0c0c0"/><rect x="1112" y="604" width="1" height="15" fill="#c0c0c0"/><rect x="1116" y="603" width="1" height="16" fill="#c0c0c0"/><rect x="1120" y="602" width="1" height="17" fill="#c0c0c0"/><rect x="1124" y="601" width="1" height="18" fill="#c0c0c0"/><rect x="1128" y="601" width="1" height="18" fill="#c0c0c0"/><polyline points="4,569.4 8,571.1 12,572.7 16,574.4 20,576.0 24,579.5 28,585.7 32,592.3 36,600.3 40,607.8 44,615.4 48,622.3 52,628.2 56,633.2 60,637.1 64,639.7 68,641.3 72,641.9 76,641.8 80,641.1 84,639.9 88,638.9 92,638.1 96,637.3 100,636.5 104,636.3 108,636.7 112,638.0 116,639.9 120,642.3 124,644.3 128,645.6 132,646.1 136,646.2 140,645.3 144,643.5 148,641.1 152,638.2 156,634.9 160,631.5 164,628.6 168,626.6 172,625.2 176,624.5 180,624.3 184,624.4 188,625.1 192,626.0 196,627.1 200,628.2 204,629.3 208,629.6 212,629.2 216,628.3 220,626.5 224,623.6 228,620.0 232,616.0 236,611.7 240,607.4 244,603.8 248,601.2 252,599.2 256,597.9 260,597.6 264,598.1 268,599.1 272,600.7 276,602.2 280,603.3 284,603.8 288,604.1 292,604.3 296,604.3 300,604.0 304,603.9 308,603.6 312,603.8 316,604.5 320,605.4 324,606.4 328,607.3 332,608.3 336,609.7 340,611.0 344,612.3 348,613.1 352,613.6 356,614.2 360,614.6 364,615.2 368,615.8 372,616.0 376,616.0 380,615.8 384,615.5 388,614.7 392,613.4 396,612.1 400,610.6 404,609.0 408,607.8 412,606.7 416,605.4 420,604.5 424,604.0 428,604.0 432,604.1 436,604.2 440,604.5 444,604.7 448,605.0 452,605.3 456,605.5 460,606.0 464,606.5 468,607.1 472,607.8 476,608.7 480,609.6 484,610.4 488,611.1 492,611.9 496,612.6 500,613.3 504,613.7 508,613.7 512,613.3 516,612.5 520,611.5 524,611.0 528,610.9 532,610.9 536,611.4 540,612.9 544,615.3 548,618.4 552,621.9 556,625.5 560,628.8 564,631.1 568,632.8 572,633.8 576,634.0 580,633.9 584,634.0 588,634.2 592,634.9 596,635.8 600,637.5 604,639.9 608,642.9 612,646.3 616,649.5 620,651.9 624,653.8 628,655.6 632,657.2 636,658.5 640,659.2 644,659.2 648,658.6 652,657.7 656,656.8 660,656.1 664,655.1 668,653.9 672,652.6 676,651.3 680,650.2 684,649.2 688,648.2 692,646.8 696,644.9 700,642.5 704,639.9 708,637.2 712,634.4 716,631.4 720,628.4 724,625.4 728,622.6 732,620.0 736,617.6 740,615.5 744,613.4 748,611.1 752,609.1 756,607.4 760,606.1 764,605.0 768,604.4 772,603.5 776,602.5 780,602.0 784,602.0 788,601.7 792,601.2 796,600.6 800,600.1 804,599.5 808,599.2 812,599.5 816,599.8 820,600.0 824,600.7 828,601.4 832,601.9 836,602.4 840,602.8 844,603.6 848,604.6 852,606.0 856,607.9 860,610.1 864,612.6 868,615.3 872,618.0 876,620.4 880,622.3 884,623.7 888,624.4 892,624.2 896,623.7 900,622.6 904,621.4 908,620.1 912,619.3 916,618.5 920,617.6 924,617.0 928,616.8 932,616.7 936,616.9 940,616.7 944,616.3 948,615.5 952,614.8 956,614.1 960,613.3 964,612.2 968,611.2 972,610.7 976,610.9 980,611.7 984,613.0 988,614.5 992,616.5 996,619.0 1000,621.8 1004,625.0 1008,627.8 1012,630.4 1016,633.1 1020,635.6 1024,638.1 1028,640.2 1032,641.7 1036,642.4 1040,642.4 1044,641.8 1048,640.8 1052,639.4 1056,637.6 1060,635.4 1064,632.9 1068,630.2 1072,627.6 1076,625.1 1080,622.7 1084,620.2 1088,617.8 1092,615.6 1096,613.7 1100,612.1 1104,610.8 1108,609.5 1112,608.3 1116,607.3 1120,606.4 1124,605.5 1128,604.7" fill="none" stroke="#ff0000" stroke-width="1" stroke-dasharray="3,3"/></g>
<polyline points="4,706.7 8,706.7 12,736.3 16,746.8 20,749.4 24,756.0 28,760.2 32,762.4 36,757.8 40,753.0 44,752.1 48,751.2 52,753.2 56,751.0 60,748.9 64,749.9 68,749.3 72,744.4 76,732.8 80,736.0 84,734.1 88,751.3 92,751.9 96,744.5 100,743.1 104,756.7 108,758.2 112,761.3 116,758.8 120,755.8 124,753.8 128,738.9 132,726.8 136,732.6 140,731.4 144,728.2 148,737.8 152,733.7 156,729.7 160,735.6 164,736.7 168,737.9 172,740.5 176,745.1 180,737.0 184,746.7 188,747.2 192,739.6 196,742.0 200,744.2 204,741.3 208,724.9 212,727.2 216,724.3 220,720.1 224,713.1 228,713.0 232,718.3 236,717.6 240,722.6 244,726.6 248,734.4 252,731.2 256,728.9 260,729.3 264,729.7 268,732.2 272,737.6 276,726.4 280,721.2 284,723.1 288,724.9 292,726.7 296,722.6 300,720.5 304,733.5 308,734.3 312,739.4 316,734.7 320,734.3 324,731.0 328,727.4 332,731.0 336,740.3 340,737.3 344,739.4 348,729.6 352,732.2 356,736.7 360,731.0 364,733.1 368,735.1 372,730.8 376,729.5 380,735.9 384,722.8 388,715.4 392,718.4 396,721.8 400,721.4 404,723.0 408,735.0 412,727.7 416,723.5 420,730.8 424,724.9 428,728.9 432,725.7 436,725.4 440,727.0 444,734.4 448,731.4 452,725.8 456,730.0 460,732.5 464,729.1 468,732.9 472,732.0 476,736.0 480,740.6 484,733.1 488,727.3 492,734.2 496,734.2 500,734.2 504,724.9 508,721.2 512,718.6 516,721.3 520,721.6 524,737.9 528,745.4 532,738.9 536,748.3 540,757.2 544,757.0 548,757.3 552,754.4 556,744.2 560,745.0 564,731.0 568,731.9 572,734.9 576,737.7 580,750.0 584,757.7 588,753.6 592,754.6 596,756.0 600,756.6 604,761.2 608,763.6 612,764.6 616,762.1 620,753.1 624,756.7 628,760.6 632,761.3 636,753.9 640,754.5 644,749.2 648,744.7 652,751.6 656,752.0 660,756.2 664,755.4 668,752.2 672,744.2 676,748.7 680,751.2 684,745.5 688,745.9 692,732.6 696,731.3 700,731.1 704,727.4 708,725.4 712,726.3 716,727.5 720,731.5 724,722.5 728,719.6 732,720.3 736,722.7 740,720.3 744,710.1 748,706.3 752,726.1 756,730.2 760,728.5 764,725.5 768,729.9 772,716.6 776,715.7 780,726.7 784,726.0 788,718.1 792,720.6 796,726.0 800,724.8 804,723.1 808,722.2 812,733.9 816,728.4 820,725.6 824,730.3 828,724.5 832,725.2 836,722.8 840,722.0 844,741.9 848,741.0 852,748.4 856,749.0 860,748.7 864,751.9 868,743.7 872,738.7 876,727.7 880,737.8 884,733.9 888,733.8 892,726.0 896,734.6 900,730.1 904,731.4 908,733.4 912,735.7 916,731.4 920,731.2 924,736.2 928,736.4 932,735.4 936,740.1 940,722.2 944,721.3 948,724.3 952,727.5 956,728.0 960,724.8 964,722.8 968,732.7 972,748.2 976,744.3 980,740.3 984,743.4 988,743.5 992,752.1 996,753.7 1000,751.5 1004,756.6 1008,754.9 1012,757.0 1016,757.7 1020,758.8 1024,757.7 1028,759.1 1032,748.9 1036,734.0 1040,732.8 1044,738.3 1048,737.0 1052,735.7 1056,735.4 1060,728.6 1064,730.5 1068,721.0 1072,721.7 1076,720.5 1080,720.0 1084,717.2 1088,718.0 1092,724.6 1096,725.7 1100,731.2 1104,717.9 1108,712.6 1112,719.5 1116,717.0 1120,716.8 1124,715.4 1128,714.7" fill="none" stroke="#1e90ff" stroke-width="1"/>
<rect x="4" y="120" width="1415" height="3" fill="#ff0000" />
<rect x="4" y="233" width="1415" height="3" fill="#ff0000" />
<rect x="4" y="349" width="1415" height="3" fill="#00ff00" />
<rect x="4" y="449" width="1415" height="3" fill="#0000ff" />
<rect x="4" y="558" width="1415" height="3" fill="#0000ff" />
<rect x="3" y="21" width="1417" height="1" fill="#000" />
<rect x="3" y="561" width="1417" height="1" fill="#000" />
<rect x="3" y="21" width="1" height="541" fill="#000"/>
<rect x="1419" y="21" width="1" height="541" fill="#000"/>
<rect x="3" y="563" width="1417" height="1" fill="#000" />
<rect x="3" y="667" width="1417" height="1" fill="#000" />
<rect x="3" y="563" width="1" height="105" fill="#000"/>
<rect x="1419" y="563" width="1" height="105" fill="#000"/>
<rect x="3" y="669" width="1417" height="1" fill="#000" />
<rect x="3" y="799" width="1417" height="1" fill="#000" />
<rect x="3" y="669" width="1" height="131" fill="#000"/>
<rect x="1419" y="669" width="1" height="131" fill="#000"/>
<rect x="1413" y="118" width="7" height="7" fill="#ff0000" />
<rect x="3" y="118" width="7" height="7" fill="#ff0000" />
<rect x="6" y="121" width="1" height="1" fill="#fff" />
<rect x="1416" y="121" width="1" height="1" fill="#fff" />
<rect x="1413" y="347" width="7" height="7" fill="#00ff00" />
<rect x="3" y="347" width="7" height="7" fill="#00ff00" />
<rect x="6" y="350" width="1" height="1" fill="#fff" />
<rect x="1416" y="350" width="1" height="1" fill="#fff" />
<rect x="1413" y="447" width="7" height="7" fill="#0000ff" />
<rect x="3" y="447" width="7" height="7" fill="#0000ff" />
<rect x="6" y="450" width="1" height="1" fill="#fff" />
<rect x="1416" y="450" width="1" height="1" fill="#fff" />
<rect x="1420" y="30" width="2" height="1" fill="#000" />
<text x="1425" y="34" font-family="Liberation Sans" font-size="10" font-weight="400" fill="#000" text-anchor="start" textLength="32" lengthAdjust="spacingAndGlyphs" stroke="#000" stroke-width="0.3" >1.36840</text>
<rect x="1420" y="63" width="2" height="1" fill="#000" />
<text x="1425" y="67" font-family="Liberation Sans" font-size="10" font-weight="400" fill="#000" text-anchor="start" textLength="32" lengthAdjust="spacingAndGlyphs" stroke="#000" stroke-width="0.3" >1.36410</text>
<rect x="1420" y="96" width="2" height="1" fill="#000" />
<text x="1425" y="100" font-family="Liberation Sans" font-size="10" font-weight="400" fill="#000" text-anchor="start" textLength="32" lengthAdjust="spacingAndGlyphs" stroke="#000" stroke-width="0.3" >1.35990</text>
<rect x="1420" y="129" width="2" height="1" fill="#000" />
<text x="1425" y="133" font-family="Liberation Sans" font-size="10" font-weight="400" fill="#000" text-anchor="start" textLength="32" lengthAdjust="spacingAndGlyphs" stroke="#000" stroke-width="0.3" >1.35560</text>
<rect x="1420" y="162" width="2" height="1" fill="#000" />
<text x="1425" y="166" font-family="Liberation Sans" font-size="10" font-weight="400" fill="#000" text-anchor="start" textLength="32" lengthAdjust="spacingAndGlyphs" stroke="#000" stroke-width="0.3" >1.35130</text>
<rect x="1420" y="195" width="2" height="1" fill="#000" />
<text x="1425" y="199" font-family="Liberation Sans" font-size="10" font-weight="400" fill="#000" text-anchor="start" textLength="32" lengthAdjust="spacingAndGlyphs" stroke="#000" stroke-width="0.3" >1.34710</text>
<rect x="1420" y="228" width="2" height="1" fill="#000" />
<text x="1425" y="232" font-family="Liberation Sans" font-size="10" font-weight="400" fill="#000" text-anchor="start" textLength="32" lengthAdjust="spacingAndGlyphs" stroke="#000" stroke-width="0.3" >1.34280</text>
<rect x="1420" y="261" width="2" height="1" fill="#000" />
<text x="1425" y="265" font-family="Liberation Sans" font-size="10" font-weight="400" fill="#000" text-anchor="start" textLength="32" lengthAdjust="spacingAndGlyphs" stroke="#000" stroke-width="0.3" >1.33850</text>
<rect x="1420" y="294" width="2" height="1" fill="#000" />
<text x="1425" y="298" font-family="Liberation Sans" font-size="10" font-weight="400" fill="#000" text-anchor="start" textLength="32" lengthAdjust="spacingAndGlyphs" stroke="#000" stroke-width="0.3" >1.33430</text>
<rect x="1420" y="327" width="2" height="1" fill="#000" />
<text x="1425" y="331" font-family="Liberation Sans" font-size="10" font-weight="400" fill="#000" text-anchor="start" textLength="32" lengthAdjust="spacingAndGlyphs" stroke="#000" stroke-width="0.3" >1.33000</text>
<rect x="1420" y="360" width="2" height="1" fill="#000" />
<text x="1425" y="364" font-family="Liberation Sans" font-size="10" font-weight="400" fill="#000" text-anchor="start" textLength="32" lengthAdjust="spacingAndGlyphs" stroke="#000" stroke-width="0.3" >1.32570</text>
<rect x="1420" y="393" width="2" height="1" fill="#000" />
<text x="1425" y="397" font-family="Liberation Sans" font-size="10" font-weight="400" fill="#000" text-anchor="start" textLength="32" lengthAdjust="spacingAndGlyphs" stroke="#000" stroke-width="0.3" >1.32150</text>
<rect x="1420" y="426" width="2" height="1" fill="#000" />
<text x="1425" y="430" font-family="Liberation Sans" font-size="10" font-weight="400" fill="#000" text-anchor="start" textLength="32" lengthAdjust="spacingAndGlyphs" stroke="#000" stroke-width="0.3" >1.31720</text>
<rect x="1420" y="459" width="2" height="1" fill="#000" />
<text x="1425" y="463" font-family="Liberation Sans" font-size="10" font-weight="400" fill="#000" text-anchor="start" textLength="32" lengthAdjust="spacingAndGlyphs" stroke="#000" stroke-width="0.3" >1.31290</text>
<rect x="1420" y="492" width="2" height="1" fill="#000" />
<text x="1425" y="496" font-family="Liberation Sans" font-size="10" font-weight="400" fill="#000" text-anchor="start" textLength="32" lengthAdjust="spacingAndGlyphs" stroke="#000" stroke-width="0.3" >1.30860</text>
<rect x="1420" y="525" width="2" height="1" fill="#000" />
<text x="1425" y="529" font-family="Liberation Sans" font-size="10" font-weight="400" fill="#000" text-anchor="start" textLength="32" lengthAdjust="spacingAndGlyphs" stroke="#000" stroke-width="0.3" >1.30440</text>
<rect x="1421" y="115" width="39" height="11" fill="#ff0000" />
<text x="1425.5" y="124" font-family="Liberation Sans" font-size="10" font-weight="400" fill="#fff" text-anchor="start" textLength="32" lengthAdjust="spacingAndGlyphs" stroke="#fff" stroke-width="0.3" >1.35662</text>
<rect x="1421" y="228" width="39" height="11" fill="#ff0000" />
<text x="1425.5" y="237" font-family="Liberation Sans" font-size="10" font-weight="400" fill="#fff" text-anchor="start" textLength="32" lengthAdjust="spacingAndGlyphs" stroke="#fff" stroke-width="0.3" >1.34206</text>
<rect x="1421" y="344" width="39" height="11" fill="#00ff00" />
<text x="1425.5" y="353" font-family="Liberation Sans" font-size="10" font-weight="400" fill="#fff" text-anchor="start" textLength="32" lengthAdjust="spacingAndGlyphs" stroke="#fff" stroke-width="0.3" >1.32701</text>
<rect x="1421" y="444" width="39" height="11" fill="#0000ff" />
<text x="1425.5" y="453" font-family="Liberation Sans" font-size="10" font-weight="400" fill="#fff" text-anchor="start" textLength="32" lengthAdjust="spacingAndGlyphs" stroke="#fff" stroke-width="0.3" >1.31407</text>
<rect x="1421" y="553" width="39" height="11" fill="#0000ff" />
<text x="1425.5" y="562" font-family="Liberation Sans" font-size="10" font-weight="400" fill="#fff" text-anchor="start" textLength="32" lengthAdjust="spacingAndGlyphs" stroke="#fff" stroke-width="0.3" >1.30004</text>
<rect x="1421" y="317" width="39" height="11" fill="#000" />
<text x="1425.5" y="326" font-family="Liberation Sans" font-size="10" font-weight="400" fill="#fff" text-anchor="start" textLength="32" lengthAdjust="spacingAndGlyphs" stroke="#fff" stroke-width="0.3" >1.33069</text>
<rect x="4" y="800" width="1" height="3" fill="#000"/>
<text x="3.3" y="812" font-family="Liberation Sans" font-size="10" font-weight="400" fill="#000" text-anchor="start" textLength="44.6" lengthAdjust="spacingAndGlyphs" stroke="#000" stroke-width="0.5" >1 Jan 2019</text>
<rect x="68" y="800" width="1" height="3" fill="#000"/>
<text x="67" y="812" font-family="Liberation Sans" font-size="10" font-weight="400" fill="#000" text-anchor="start" textLength="50.2" lengthAdjust="spacingAndGlyphs" stroke="#000" stroke-width="0.5" >20 Jan 2019</text>
<rect x="132" y="800" width="1" height="3" fill="#000"/>
<text x="131" y="812" font-family="Liberation Sans" font-size="10" font-weight="400" fill="#000" text-anchor="start" textLength="47" lengthAdjust="spacingAndGlyphs" stroke="#000" stroke-width="0.5" >7 Feb 2019</text>
<rect x="196" y="800" width="1" height="3" fill="#000"/>
<text x="195" y="812" font-family="Liberation Sans" font-size="10" font-weight="400" fill="#000" text-anchor="start" textLength="51.6" lengthAdjust="spacingAndGlyphs" stroke="#000" stroke-width="0.5" >26 Feb 2019</text>
<rect x="260" y="800" width="1" height="3" fill="#000"/>
<text x="259" y="812" font-family="Liberation Sans" font-size="10" font-weight="400" fill="#000" text-anchor="start" textLength="52" lengthAdjust="spacingAndGlyphs" stroke="#000" stroke-width="0.5" >17 Mar 2019</text>
<rect x="324" y="800" width="1" height="3" fill="#000"/>
<text x="323" y="812" font-family="Liberation Sans" font-size="10" font-weight="400" fill="#000" text-anchor="start" textLength="46.6" lengthAdjust="spacingAndGlyphs" stroke="#000" stroke-width="0.5" >4 Apr 2019</text>
<rect x="388" y="800" width="1" height="3" fill="#000"/>
<text x="387" y="812" font-family="Liberation Sans" font-size="10" font-weight="400" fill="#000" text-anchor="start" textLength="51.2" lengthAdjust="spacingAndGlyphs" stroke="#000" stroke-width="0.5" >24 Apr 2019</text>
<rect x="452" y="800" width="1" height="3" fill="#000"/>
<text x="451" y="812" font-family="Liberation Sans" font-size="10" font-weight="400" fill="#000" text-anchor="start" textLength="55.3" lengthAdjust="spacingAndGlyphs" stroke="#000" stroke-width="0.5" >13 May 2019</text>
<rect x="516" y="800" width="1" height="3" fill="#000"/>
<text x="515" y="812" font-family="Liberation Sans" font-size="10" font-weight="400" fill="#000" text-anchor="start" textLength="54.8" lengthAdjust="spacingAndGlyphs" stroke="#000" stroke-width="0.5" >31 May 2019</text>
<rect x="580" y="800" width="1" height="3" fill="#000"/>
<text x="579" y="812" font-family="Liberation Sans" font-size="10" font-weight="400" fill="#000" text-anchor="start" textLength="49.8" lengthAdjust="spacingAndGlyphs" stroke="#000" stroke-width="0.5" >19 Jun 2019</text>
<rect x="644" y="800" width="1" height="3" fill="#000"/>
<text x="643" y="812" font-family="Liberation Sans" font-size="10" font-weight="400" fill="#000" text-anchor="start" textLength="41.7" lengthAdjust="spacingAndGlyphs" stroke="#000" stroke-width="0.5" >8 Jul 2019</text>
<rect x="708" y="800" width="1" height="3" fill="#000"/>
<text x="707" y="812" font-family="Liberation Sans" font-size="10" font-weight="400" fill="#000" text-anchor="start" textLength="46.6" lengthAdjust="spacingAndGlyphs" stroke="#000" stroke-width="0.5" >26 Jul 2019</text>
<rect x="772" y="800" width="1" height="3" fill="#000"/>
<text x="771" y="812" font-family="Liberation Sans" font-size="10" font-weight="400" fill="#000" text-anchor="start" textLength="52.1" lengthAdjust="spacingAndGlyphs" stroke="#000" stroke-width="0.5" >14 Aug 2019</text>
<rect x="836" y="800" width="1" height="3" fill="#000"/>
<text x="835" y="812" font-family="Liberation Sans" font-size="10" font-weight="400" fill="#000" text-anchor="start" textLength="46.6" lengthAdjust="spacingAndGlyphs" stroke="#000" stroke-width="0.5" >2 Sep 2019</text>
<rect x="900" y="800" width="1" height="3" fill="#000"/>
<text x="899" y="812" font-family="Liberation Sans" font-size="10" font-weight="400" fill="#000" text-anchor="start" textLength="51.2" lengthAdjust="spacingAndGlyphs" stroke="#000" stroke-width="0.5" >20 Sep 2019</text>
<rect x="964" y="800" width="1" height="3" fill="#000"/>
<text x="963" y="812" font-family="Liberation Sans" font-size="10" font-weight="400" fill="#000" text-anchor="start" textLength="46.1" lengthAdjust="spacingAndGlyphs" stroke="#000" stroke-width="0.5" >9 Oct 2019</text>
<rect x="1028" y="800" width="1" height="3" fill="#000"/>
<text x="1027" y="812" font-family="Liberation Sans" font-size="10" font-weight="400" fill="#000" text-anchor="start" textLength="50.7" lengthAdjust="spacingAndGlyphs" stroke="#000" stroke-width="0.5" >28 Oct 2019</text>
<rect x="1092" y="800" width="1" height="3" fill="#000"/>
<text x="1091" y="812" font-family="Liberation Sans" font-size="10" font-weight="400" fill="#000" text-anchor="start" textLength="46" lengthAdjust="spacingAndGlyphs" stroke="#000" stroke-width="0.5" >15 Nov 2019</text>
<rect x="1420" y="565" width="2" height="1" fill="#000" />
<text x="1423" y="575" font-family="Liberation Sans" font-size="10" font-weight="400" fill="#000" text-anchor="start" textLength="40" lengthAdjust="spacingAndGlyphs" stroke="#000" stroke-width="0.3" >0.009957</text>
<rect x="1420" y="618" width="2" height="1" fill="#000" />
<text x="1423" y="622" font-family="Liberation Sans" font-size="10" font-weight="400" fill="#000" text-anchor="start" textLength="18" lengthAdjust="spacingAndGlyphs" stroke="#000" stroke-width="0.3" >0.00</text>
<rect x="1420" y="666" width="2" height="1" fill="#000" />
<text x="1423" y="665" font-family="Liberation Sans" font-size="10" font-weight="400" fill="#000" text-anchor="start" textLength="44" lengthAdjust="spacingAndGlyphs" stroke="#000" stroke-width="0.3" >-0.009186</text>
<text x="8" y="576" font-family="Liberation Sans" font-size="10" font-weight="400" fill="#000" text-anchor="start" textLength="148" lengthAdjust="spacingAndGlyphs" stroke="#000" stroke-width="0.3" >MACD(12,26,9) 0.003338 0.002559</text>
<rect x="1420" y="671" width="2" height="1" fill="#000" />
<rect x="1420" y="797" width="2" height="1" fill="#000" />
<text x="1423" y="680" font-family="Liberation Sans" font-size="10" font-weight="400" fill="#000" text-anchor="start" textLength="15" lengthAdjust="spacingAndGlyphs" stroke="#000" stroke-width="0.3" >100</text>
<text x="1422.5" y="713" font-family="Liberation Sans" font-size="10" font-weight="400" fill="#000" text-anchor="start" textLength="9.5" lengthAdjust="spacingAndGlyphs" stroke="#000" stroke-width="0.3" >70</text>
<text x="1422.5" y="764" font-family="Liberation Sans" font-size="10" font-weight="400" fill="#000" text-anchor="start" textLength="9.5" lengthAdjust="spacingAndGlyphs" stroke="#000" stroke-width="0.3" >30</text>
<text x="1423" y="796" font-family="Liberation Sans" font-size="10" font-weight="400" fill="#000" text-anchor="start" textLength="5" lengthAdjust="spacingAndGlyphs" stroke="#000" stroke-width="0.3" >0</text>
<line x1="5" y1="709.5" x2="1418" y2="709.5" stroke="#c0c0c0" stroke-width="1" stroke-dasharray="3,3"/>
<line x1="5" y1="760.5" x2="1418" y2="760.5" stroke="#c0c0c0" stroke-width="1" stroke-dasharray="3,3"/>
<text x="8" y="682" font-family="Liberation Sans" font-size="10" font-weight="400" fill="#000" text-anchor="start" textLength="67" lengthAdjust="spacingAndGlyphs" stroke="#000" stroke-width="0.3" >RSI(14) 65.7458</text>
<path d="M6.5 32 L10.5 28 L14.5 32 Z" fill="#000"/>
<text x="19.4" y="33" font-family="Liberation Sans" font-size="10" font-weight="400" fill="#000" text-anchor="start" textLength="215" lengthAdjust="spacingAndGlyphs" stroke="#000" stroke-width="0.2" >USDCAD-,Daily&#160;&#160;1.33031 1.33071 1.32997 1.33069</text>
<defs>
<linearGradient id="gbtn" x1="0" y1="0" x2="0" y2="1"><stop offset="0" stop-color="#5a5af5"/><stop offset="1" stop-color="#2f2fe0"/></linearGradient>
<linearGradient id="gbox" x1="0" y1="0" x2="0" y2="1"><stop offset="0" stop-color="#2b2bdc"/><stop offset="1" stop-color="#0000a8"/></linearGradient>
<linearGradient id="ggray" x1="0" y1="0" x2="0" y2="1"><stop offset="0" stop-color="#f2f2f2"/><stop offset="1" stop-color="#d2d2d2"/></linearGradient>
</defs>
<rect x="5" y="39" width="223" height="68" fill="#fff" />
<rect x="7" y="65" width="109" height="40" fill="url(#gbox)" />
<rect x="118" y="65" width="108" height="40" fill="url(#gbox)" />
<rect x="7" y="41" width="52" height="24" fill="url(#gbtn)" />
<rect x="174" y="41" width="52" height="24" fill="url(#gbtn)" />
<rect x="11" y="65" width="45" height="1" fill="#8c8cff" />
<rect x="178" y="65" width="45" height="1" fill="#8c8cff" />
<rect x="61" y="41" width="112" height="23" fill="#a9a9a9" />
<rect x="62" y="42" width="110" height="21" fill="#fff" />
<rect x="63" y="43" width="19" height="19" fill="url(#ggray)" />
<rect x="152" y="43" width="19" height="19" fill="url(#ggray)" />
<rect x="82" y="42" width="1" height="21" fill="#c8c8c8"/>
<rect x="151" y="42" width="1" height="21" fill="#c8c8c8"/>
<path d="M69 51 L75 51 L72 54 Z" fill="#6a7fd0"/>
<path d="M159 54 L165 54 L162 51 Z" fill="#6a7fd0"/>
<text x="123" y="56" font-family="Liberation Sans" font-size="12" font-weight="400" fill="#000" text-anchor="start" textLength="24" lengthAdjust="spacingAndGlyphs" stroke="#000" stroke-width="0.1" >1.00</text>
<text x="19" y="57" font-family="Liberation Sans" font-size="12" font-weight="400" fill="#fff" text-anchor="start" textLength="26" lengthAdjust="spacingAndGlyphs" >SELL</text>
<text x="186" y="57" font-family="Liberation Sans" font-size="12" font-weight="400" fill="#fff" text-anchor="start" textLength="26" lengthAdjust="spacingAndGlyphs" >BUY</text>
<text x="28" y="96" font-family="Liberation Sans" font-size="12" font-weight="700" fill="#fff" text-anchor="start" textLength="23" lengthAdjust="spacingAndGlyphs" >1.33</text>
<text x="55" y="96" font-family="Liberation Sans" font-size="32" font-weight="400" fill="#fff" text-anchor="start" textLength="35" lengthAdjust="spacingAndGlyphs" >06</text>
<text x="94" y="80" font-family="Liberation Sans" font-size="12" font-weight="700" fill="#fff" text-anchor="start" textLength="7" lengthAdjust="spacingAndGlyphs" >9</text>
<text x="138" y="96" font-family="Liberation Sans" font-size="12" font-weight="700" fill="#fff" text-anchor="start" textLength="23" lengthAdjust="spacingAndGlyphs" >1.33</text>
<text x="165" y="96" font-family="Liberation Sans" font-size="32" font-weight="400" fill="#fff" text-anchor="start" textLength="35" lengthAdjust="spacingAndGlyphs" >09</text>
<text x="205" y="80" font-family="Liberation Sans" font-size="12" font-weight="700" fill="#fff" text-anchor="start" textLength="7" lengthAdjust="spacingAndGlyphs" >2</text>
<path d="M1130 22 L1139 22 L1134.5 27 Z" fill="#b4b4b4"/>
<rect x="0" y="820" width="1461" height="1" fill="#e3e3e3" />
<rect x="0" y="822" width="1461" height="1" fill="#000" />
<rect x="0" y="823" width="1460" height="19" fill="#f0f0f0" />
<rect x="0" y="823" width="1461" height="1" fill="#f8f8f8" />
<rect x="0" y="842" width="1461" height="1" fill="#f8f8f8" />
<rect x="0" y="843" width="1460" height="2" fill="#f0f0f0" />
<rect x="0" y="823" width="1" height="18" fill="#6b6b6b"/>
<rect x="330" y="822" width="106" height="19" fill="#fff" />
<rect x="329" y="822" width="1" height="19" fill="#000"/>
<rect x="436" y="822" width="1" height="19" fill="#000"/>
<rect x="329" y="840" width="108" height="1" fill="#000" />
<text x="15.8" y="837" font-family="Liberation Sans" font-size="13" font-weight="400" fill="#6d6d6d" text-anchor="start" textLength="85.5" lengthAdjust="spacingAndGlyphs" >EURUSD-,Daily</text>
<text x="123.4" y="837" font-family="Liberation Sans" font-size="13" font-weight="400" fill="#6d6d6d" text-anchor="start" textLength="86.5" lengthAdjust="spacingAndGlyphs" >AUDUSD-,Daily</text>
<text x="232.9" y="837" font-family="Liberation Sans" font-size="13" font-weight="400" fill="#6d6d6d" text-anchor="start" textLength="84.5" lengthAdjust="spacingAndGlyphs" >USDCHF-,Daily</text>
<text x="340.5" y="837" font-family="Liberation Sans" font-size="13" font-weight="400" fill="#000" text-anchor="start" textLength="86.1" lengthAdjust="spacingAndGlyphs" stroke="#000" stroke-width="0.15" >USDCAD-,Daily</text>
<text x="449.1" y="837" font-family="Liberation Sans" font-size="13" font-weight="400" fill="#6d6d6d" text-anchor="start" textLength="87.8" lengthAdjust="spacingAndGlyphs" >USDCNH-,Daily</text>
<text x="560" y="837" font-family="Liberation Sans" font-size="13" font-weight="400" fill="#6d6d6d" text-anchor="start" textLength="97" lengthAdjust="spacingAndGlyphs" >EURCHF-,Weekly</text>
<text x="680.7" y="837" font-family="Liberation Sans" font-size="13" font-weight="400" fill="#6d6d6d" text-anchor="start" textLength="100.6" lengthAdjust="spacingAndGlyphs" >XAUUSD-,Weekly</text>
<text x="804" y="837" font-family="Liberation Sans" font-size="13" font-weight="400" fill="#6d6d6d" text-anchor="start" textLength="73.4" lengthAdjust="spacingAndGlyphs" >GBPUSD-,H1</text>
<text x="900.4" y="837" font-family="Liberation Sans" font-size="13" font-weight="400" fill="#6d6d6d" text-anchor="start" textLength="56.9" lengthAdjust="spacingAndGlyphs" >UKOil-,H1</text>
<text x="978.7" y="837" font-family="Liberation Sans" font-size="13" font-weight="400" fill="#6d6d6d" text-anchor="start" textLength="83.2" lengthAdjust="spacingAndGlyphs" >USDX-,Weekly</text>
<text x="1083.3" y="837" font-family="Liberation Sans" font-size="13" font-weight="400" fill="#6d6d6d" text-anchor="start" textLength="70.7" lengthAdjust="spacingAndGlyphs" >EURCHF-,H1</text>
<text x="1177.7" y="837" font-family="Liberation Sans" font-size="13" font-weight="400" fill="#6d6d6d" text-anchor="start" textLength="54.9" lengthAdjust="spacingAndGlyphs" >USOil-,H1</text>
<rect x="113" y="825" width="1" height="14" fill="#646464"/>
<rect x="222" y="825" width="1" height="14" fill="#646464"/>
<rect x="549" y="825" width="1" height="14" fill="#646464"/>
<rect x="670" y="825" width="1" height="14" fill="#646464"/>
<rect x="793" y="825" width="1" height="14" fill="#646464"/>
<rect x="889" y="825" width="1" height="14" fill="#646464"/>
<rect x="969" y="825" width="1" height="14" fill="#646464"/>
<rect x="1074" y="825" width="1" height="14" fill="#646464"/>
<rect x="1166" y="825" width="1" height="14" fill="#646464"/>
<rect x="1245" y="825" width="1" height="14" fill="#646464"/>
<path d="M1434 831 L1438 828 L1438 834 Z" fill="#a0a0a0"/>
<path d="M1454 828 L1458 831 L1454 834 Z" fill="#a0a0a0"/></svg></body></html>
